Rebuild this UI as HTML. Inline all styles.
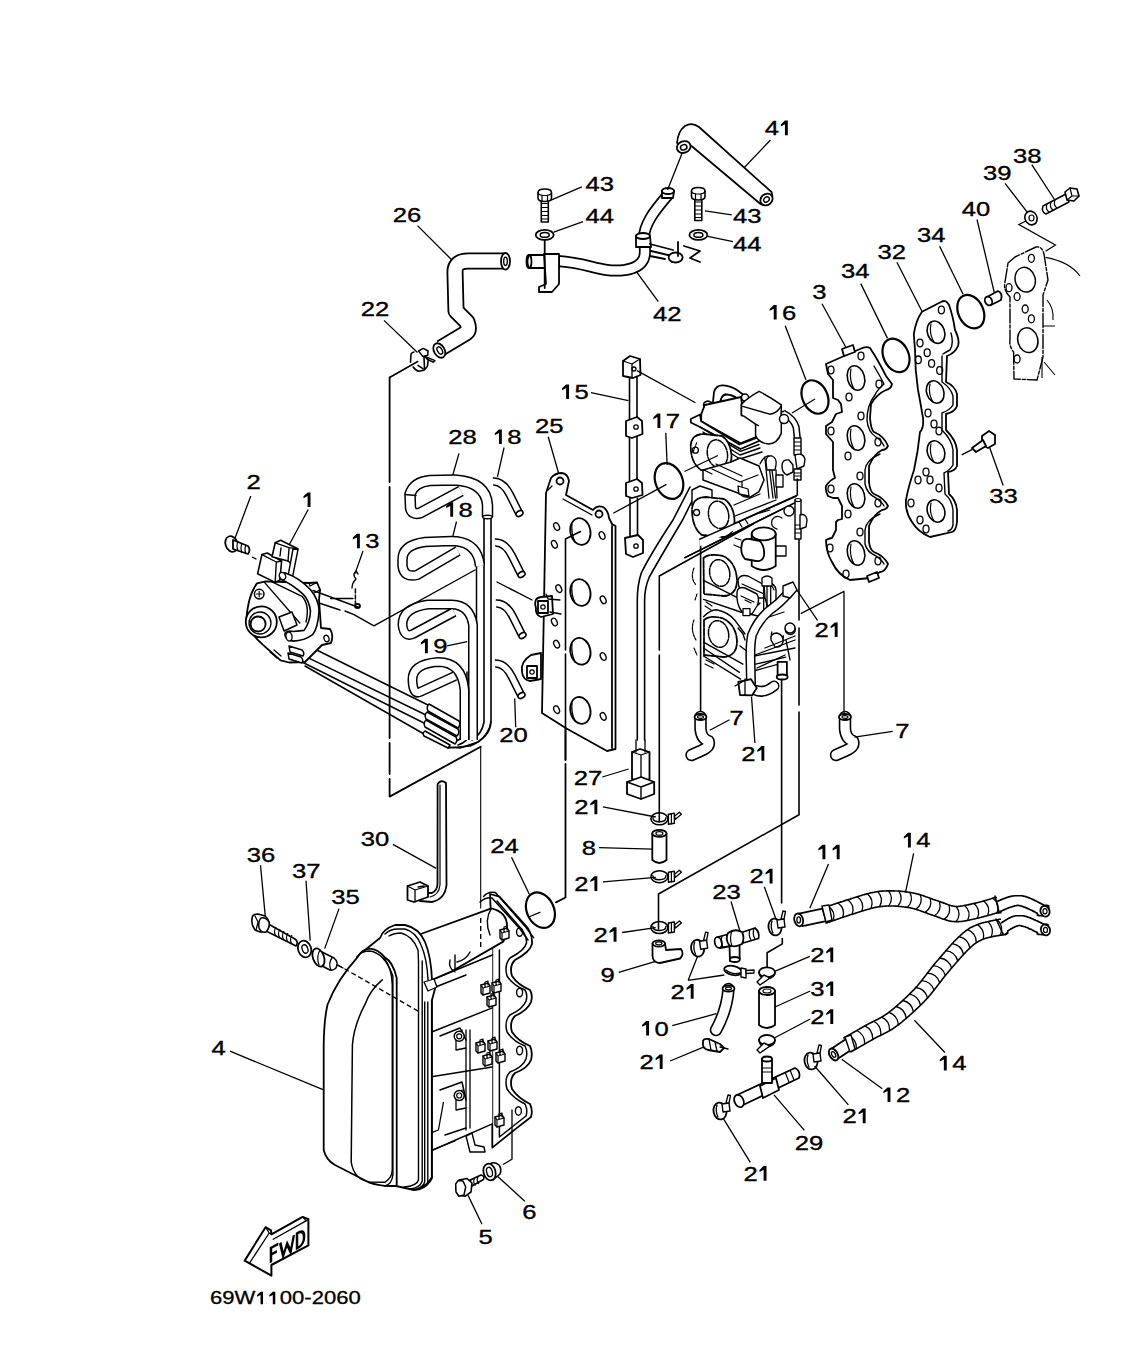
<!DOCTYPE html>
<html><head><meta charset="utf-8"><style>
html,body{margin:0;padding:0;background:#fff;width:1123px;height:1351px;overflow:hidden}
svg{display:block}
.l{fill:none;stroke:#000}.l:not([stroke-width]){stroke-width:1.3}
.p{fill:#fff;stroke:#000;stroke-linejoin:round;stroke-linecap:round}.p:not([stroke-width]){stroke-width:1.8}
.n{fill:none;stroke:#000;stroke-linejoin:round;stroke-linecap:round}.n:not([stroke-width]){stroke-width:1.8}
.t{fill:none;stroke:#000}.t:not([stroke-width]){stroke-width:1.2}
.d{fill:none;stroke:#000;stroke-dasharray:5 3}.d:not([stroke-width]){stroke-width:1.3}
.dd{fill:none;stroke:#000;stroke-width:1.8;stroke-dasharray:40 4 3 4}
#labels text{font-family:"Liberation Sans",sans-serif;font-size:20.5px;fill:#000;stroke:#000;stroke-width:0.35px}
</style></head><body>
<svg width="1123" height="1351" viewBox="0 0 1123 1351">
<!-- leaders -->
<g id="leaders">
<path class="l" d="M417.5,225.6L452.2,260.3 M384,320.4L417.5,352.5 M581.8,186.8L551,200.2 M583,221.6L553.7,232.2
M770.5,140L742.4,169.5 M731.7,214.9L705,210.9 M733,241.6L707.7,236.3 M658.3,301.7L636.9,272.3
M1031.8,164.7L1054.5,199.5 M1005,183.4L1027.8,212.8 M977,219.5L994.4,293 M939.6,246.2L963.1,294.3
M896.9,262.2L922.2,311.7 M860.8,283.6L887.5,338.4 M822,303.7L846.1,347.7 M785.2,325.8L806,380
M250.8,496L234.7,538.9 M308.2,509.5L289.5,544.2 M363,551L355,573.6 M459,453.4L452.5,476 M456.5,521.5L452.5,537.6
M447.1,645.8L467.2,641.7 M591,392.7L628.4,400.7 M548.2,436.8L558.9,474.2 M504.1,447.5L497.4,476.9 M665.8,432.8L667.1,464.8
M989.8,448L1003.2,485.5 M794.8,587L817.5,620.4 M514.7,698.5L515.7,727.3 M602.3,777L628.6,769 M602.9,806.8L655.8,817
M599,847.6L652.6,849.2 M603,881.9L655.8,877.4 M392.9,844.4L436.2,868.4 M511.5,857.2L529.2,894 M622.1,932.5L655.8,927.7
M260.5,865.3L265.3,916.6 M306,880.7L310.2,940.6 M339,908.6L324.7,948.6 M230,1051.2L323,1089.7
M828.5,864L809.8,908.2 M764.3,886.8L776.4,920.2 M731,901.5L740.3,932.2 M618.7,972.3L654.8,961.6
M688.2,980.3L697.6,956.3 M688.2,980.3L724.3,975 M809.8,956.3L772.4,972.3 M810.3,991L775,1007 M810.3,1019L772.4,1039
M672.2,1025.7L716.3,1013.7"/>

</g>
<!-- assembly -->
<g id="assembly">
<path class="n" stroke-width="1.5" d="M417.7,361.5 L389.6,377.5"/>
<path class="n" stroke-width="1.8" d="M389.6,377.5 V482 M389.6,487 V738 M389.6,743 V774 M389.6,779 V796.6 L480.7,746.7"/>
<path class="n" stroke-width="1.1" d="M480.7,746.7 V908"/>
<path class="n" stroke-width="1.8" d="M565.5,539 L580.4,531.5 M565.5,539 V650 M565.5,654 V760 M565.5,764 V897.5 L556,902.4"/>
<!-- O-ring 24 -->
<ellipse class="n" cx="540.4" cy="910.2" rx="13.5" ry="18.5" transform="rotate(-25 540.4 910.2)" stroke-width="2.2"/>
<path class="l" d="M528.7,917 L540.4,912.2"/>
<!-- hose 30 -->
<path class="p" d="M437.6,784 Q441,779 446,783 L446.5,885 Q445,899 432,902 L420,901 L421,893 L432,893 Q437.5,890 437.5,884 Z"/>
<path class="n" stroke-width="1.2" d="M440,785 L440,885 Q439,895 430,897"/>
<path class="p" d="M407.5,886 L420,882 L428,886 L428,897 L414,902 L407.5,900 Z"/>
<path class="n" stroke-width="1.3" d="M407.5,886 L415,890 L428,886 M415,890 L415,902 M418,887 L424,886"/>

</g>
<!-- top -->
<g id="top">
<!-- hose 26 -->
<path d="M441,348 L466,333 Q470,330 467,322 L456,311 L455,272 Q455,261 468,261 L505,261" fill="none" stroke="#000" stroke-width="17" stroke-linejoin="round"/>
<path d="M441,348 L466,333 Q470,330 467,322 L456,311 L455,272 Q455,261 468,261 L505,261" fill="none" stroke="#fff" stroke-width="13.4" stroke-linejoin="round"/>
<ellipse cx="505.5" cy="261.3" rx="4.5" ry="8.3" class="p"/>
<ellipse cx="505.5" cy="261.3" rx="1.8" ry="4.2" class="n" stroke-width="1.4"/>
<ellipse cx="439.3" cy="350.5" rx="5.3" ry="7.8" transform="rotate(-30 439.3 350.5)" class="p"/>
<ellipse cx="439.8" cy="350.5" rx="2.3" ry="4" transform="rotate(-30 439.8 350.5)" class="n" stroke-width="1.4"/>
<!-- clamp 22 -->
<path class="n" stroke-width="1.6" d="M410.5,362.2 L411,354.2 Q412,352 414,352 M413.2,367 Q416,371 419,371.3 L423.8,370.3 Q427.5,367 427.6,365.4 L428.1,360.6 M418,365.4 L422.8,368.7 M424,357 L424.5,369"/>
<path class="p" stroke-width="1.5" d="M418.5,351 L423.3,348.4 L428.1,351 L427.6,355.3 L422.8,356.4 Z"/>
<path class="p" stroke-width="1.5" d="M424.9,356.4 L435,360.6 L433,362.2 L427,359 Z"/>
<!-- bolts 43 / washers 44 -->
<g id="b43a">
<rect class="p" x="541.3" y="199" width="7" height="23" stroke-width="1.6"/>
<path class="t" d="M541.3,203.5 H548.3 M541.3,207.5 H548.3 M541.3,211.5 H548.3 M541.3,215.5 H548.3 M541.3,219 H548.3"/>
<path class="p" stroke-width="1.6" d="M538,192.5 Q538,189 544.8,189 Q551.5,189 551.5,192.5 L551.5,198 Q551.5,201.5 544.8,201.5 Q538,201.5 538,198 Z"/>
<path class="n" stroke-width="1.2" d="M538,192.5 Q538,195.5 544.8,195.5 Q551.5,195.5 551.5,192.5 M542,195 V201.3 M547.5,195 V201.3"/>
</g>
<use href="#b43a" transform="translate(153.5,-1.5)"/>
<ellipse class="n" cx="544.7" cy="234.9" rx="9" ry="5"/>
<ellipse class="n" cx="544.7" cy="234.9" rx="4.5" ry="2.4" stroke-width="1.5"/>
<ellipse class="n" cx="698.4" cy="234.9" rx="9" ry="5"/>
<ellipse class="n" cx="698.4" cy="234.9" rx="4.5" ry="2.4" stroke-width="1.5"/>
<!-- hose 42 -->
<path d="M558,261 C590,263 600,273 625,270 C650,266 645,250 644,240 C643,225 655,210 668,195" fill="none" stroke="#000" stroke-width="12" stroke-linejoin="round"/>
<path d="M558,261 C590,263 600,273 625,270 C650,266 645,250 644,240 C643,225 655,210 668,195" fill="none" stroke="#fff" stroke-width="8.6" stroke-linejoin="round"/>
<path class="p" d="M636,236 L650,236 L651,247 L636,247 Z"/>
<ellipse class="p" cx="643" cy="236" rx="7" ry="3"/>
<path class="p" d="M662,191 L674,191 L673,198 L662,198 Z"/>
<ellipse class="p" cx="668" cy="191" rx="6" ry="3"/>
<path class="p" d="M529,255 L559,255 L559,268 L529,268 Q526,261.5 529,255 Z"/>
<ellipse class="n" cx="529" cy="261.5" rx="2.5" ry="6.5"/>
<path class="p" d="M544,254 L559,254 L559,284 L552,292 L539,292 L539,287 L546,284 Z"/>
<path class="n" d="M544.7,240 L544.7,288"/>
<path class="n" d="M650,244 L673,250 M651,251 L672,256 L672,262 M650,256 L665,259"/>
<ellipse class="p" cx="675.6" cy="257.5" rx="7" ry="5"/>
<path class="n" d="M678,242 L678,256 M684,246 L700,251 L690,258 L700,262"/>
<!-- link -->
<path class="t" d="M667.5,190 L683,151" stroke-width="1.3"/>
<!-- hose 41 -->
<path class="p" stroke-width="1.7" d="M677,143 Q678,131 685,126 Q692,122 699,127 L771.5,192 Q774,198 769,203 Q764,206 760.5,204 L691.5,146 Z"/>
<ellipse class="p" cx="766.5" cy="199.5" rx="6.5" ry="5.5" transform="rotate(-40 766.5 199.5)"/>
<ellipse class="n" cx="766.5" cy="199.5" rx="3" ry="2.4" transform="rotate(-40 766.5 199.5)" stroke-width="1.4"/>
<ellipse class="p" cx="683.7" cy="147" rx="7" ry="5.8" transform="rotate(-20 683.7 147)"/>
<ellipse class="n" cx="683.7" cy="147.3" rx="3.3" ry="2.6" transform="rotate(-20 683.7 147.3)" stroke-width="1.5"/>

</g>
<!-- gaskets -->
<g id="gaskets">
<!-- head plate far right -->
<path class="n" stroke-width="1.4" d="M1008,263 L1015,257 L1036,247 Q1042,246 1044,254 L1048,280 L1043,295 L1043,357 L1037,380 L1014,379 L1013.6,352 Q1009,346 1010,340 L1010,297 Q1003,290 1005,282 L1008,263 Z" stroke-dasharray="14 2 3 2"/>
<ellipse class="n" cx="1025.2" cy="279.7" rx="10" ry="12.5" transform="rotate(-15 1025.2 279.7)" stroke-width="1.5"/>
<ellipse class="n" cx="1027.8" cy="340.2" rx="10" ry="12.5" transform="rotate(-15 1027.8 340.2)" stroke-width="1.5"/>
<g class="n" stroke-width="1.3">
<ellipse cx="1031.4" cy="258.3" rx="3" ry="4"/><ellipse cx="1009" cy="287.7" rx="3" ry="4"/><ellipse cx="1017.1" cy="296.6" rx="3" ry="4"/>
<ellipse cx="1025.2" cy="309" rx="3" ry="4"/><ellipse cx="1031.4" cy="318.8" rx="3" ry="4"/><ellipse cx="1017.1" cy="359" rx="3" ry="4"/>
</g>
<path class="t" d="M1045.6,257.4 Q1070,262 1080,276 M1047,300 Q1054,308 1053,320 M1043,326 L1055,326 M1044,362 L1055,375 M1042,357 L1042,378" stroke-width="1.1"/>
<path class="t" d="M1026,221 L1018.9,224.5 L1055.4,245 L1045.6,251.2" stroke-width="1.3"/>
<!-- bolt 38 washer 39 -->
<path class="p" stroke-width="1.5" d="M1043,206 L1066,194 L1069,202 L1046,214 Q1041,212 1043,206 Z"/>
<path class="t" d="M1047,204 Q1045,209 1049,212 M1051,202 Q1049,207 1053,210 M1055,200 Q1053,205 1057,208"/>
<path class="p" stroke-width="1.6" d="M1065,192 L1070,188 L1077,189 L1079,196 L1074,201 L1067,200 Z"/>
<path class="n" stroke-width="1.2" d="M1070,188 L1072,196 L1079,196 M1072,196 L1067,200"/>
<ellipse class="p" cx="1031" cy="218" rx="6" ry="7" transform="rotate(-25 1031 218)" stroke-width="1.6"/>
<ellipse class="n" cx="1031.5" cy="218" rx="2.5" ry="3" stroke-width="1.2"/>
<!-- pin 40 -->
<path class="p" d="M987,297 L998,291 Q1003,293 1001,300 L991,305 Z"/>
<ellipse class="p" cx="988.5" cy="301" rx="3.5" ry="4.5" transform="rotate(-25 988.5 301)"/>
<!-- O-rings 34 x2, 16 -->
<ellipse class="n" cx="970.8" cy="311.7" rx="12.5" ry="17.5" transform="rotate(-25 970.8 311.7)" stroke-width="2.2"/>
<ellipse class="n" cx="896" cy="355.4" rx="12.5" ry="17.5" transform="rotate(-25 896 355.4)" stroke-width="2.2"/>
<ellipse class="n" cx="815" cy="397" rx="12.5" ry="17.5" transform="rotate(-25 815 397)" stroke-width="2.2"/>
<path class="l" d="M792,413 L815,399"/>
<!-- gasket 32 -->
<path class="p" d="M922,311.7 L941,302 Q946,299 949,305 Q953,316 955,330 Q960,340 958,346 Q955,353 947,356 L946,382 Q955,386 957,394 L957,406 Q955,412 946,414 L946,430 Q956,440 957,450 L957,466 Q955,471 948,472 L949,494 Q956,500 957,510 L957,522 Q956,531 952,532 L930,537 Q918,532 912,522 Q905,512 906,500 Q908,488 914,470 Q918,452 920,432 Q924,428 923,418 Q920,400 918,390 Q915,370 915,350 L913.8,334 Q916,320 922,311.7 Z"/>
<path class="n" stroke-width="1.4" d="M951,333 Q954,344 950,350 Q946,352 943,354 M942,356 L942,382 Q951,388 953,396 L953,405 Q950,410 942,413 L942,430 Q952,440 953,450 L953,465 Q950,470 944,473 L945,494 Q952,500 953,510 L953,525 Q952,530 948,531"/>
<g class="n" stroke-width="1.6">
<ellipse cx="936" cy="332.2" rx="8.5" ry="11.5" transform="rotate(-20 936 332.2)"/>
<ellipse cx="935.2" cy="392" rx="8.5" ry="11.5" transform="rotate(-20 935.2 392)"/>
<ellipse cx="936" cy="452" rx="8.5" ry="11.5" transform="rotate(-20 936 452)"/>
<ellipse cx="936" cy="511" rx="8.5" ry="11.5" transform="rotate(-20 936 511)"/>
<path d="M931,324 Q929,334 934,342 M930,384 Q928,394 933,402 M931,444 Q929,454 934,462 M931,503 Q929,513 934,521" stroke-width="1.2"/>
</g>
<g class="n" stroke-width="1.3">
<ellipse cx="941.4" cy="310" rx="3" ry="3.8"/><ellipse cx="920" cy="343" rx="3" ry="3.8"/><ellipse cx="927.2" cy="352.7" rx="3" ry="3.8"/>
<ellipse cx="918.3" cy="359.8" rx="3" ry="3.8"/><ellipse cx="931.6" cy="363.4" rx="3" ry="3.8"/><ellipse cx="939.7" cy="370.5" rx="3" ry="3.8"/>
<ellipse cx="928" cy="413" rx="3" ry="3.8"/><ellipse cx="934" cy="424" rx="3" ry="3.8"/><ellipse cx="939" cy="431" rx="3" ry="3.8"/>
<ellipse cx="926" cy="472" rx="3" ry="3.8"/><ellipse cx="930" cy="480" rx="3" ry="3.8"/><ellipse cx="918" cy="480" rx="3" ry="3.8"/>
<ellipse cx="939" cy="488" rx="3" ry="3.8"/><ellipse cx="911" cy="503" rx="3" ry="3.8"/><ellipse cx="920" cy="520" rx="3" ry="3.8"/><ellipse cx="926" cy="529" rx="3" ry="3.8"/>
</g>
<!-- bolt 33 -->
<path class="p" d="M982,436 L989,431 L995,435 L995,444 L988,448 L982,445 Z"/>
<path class="p" d="M972,448 L983,440 L986,446 L976,452 Z"/>
<path class="t" d="M961.7,454.8 L972.4,449.4" stroke-width="1.3"/>
<!-- gasket 3 -->
<path class="p" d="M826,364 L860,349 Q866,346 870,348 Q878,360 886,376 L892,384 Q891,389 886,390 Q877,394 871,404 L870,418 Q871,430 874,432 Q884,436 888,446 Q886,450 882,450 Q874,454 869,466 L869,482 Q870,492 874,494 Q884,498 888,506 Q886,510 882,510 Q874,514 869,526 L869,542 Q870,550 874,552 Q884,556 888,564 Q885,572 880,572 L870,578 L850,580 Q838,575 832,562 Q826,552 826,540 Q830,538 832,538 L836,530 L836,522 L838,520 L842,519 L842,506 L838,498 L833,498 L828,496 Q825,490 826,486 Q830,480 835,478 L833,470 L833,442 L826,434 L826,426 L832,422 L836,414 L842,412 L841,404 L838,400 L833,398 L833,380 L828,374 Z"/>
<path class="n" stroke-width="1.4" d="M874,366 Q880,376 884,384 Q877,390 875,395 Q867,405 867,420 Q868,432 876,437 Q882,441 884,446 M880,454 Q866,460 865,470 L865,484 Q867,494 876,498 Q882,502 884,506 M880,514 Q866,520 865,530 L865,544 Q867,552 876,556 Q882,560 884,564"/>
<path class="p" d="M842,349 L853,345 L855,352 L844,356 Z"/>
<path class="p" d="M867,576 L877,572 L879,578 L869,582 Z"/>
<g class="n" stroke-width="1.6">
<ellipse cx="856" cy="378" rx="8.5" ry="12.5" transform="rotate(-15 856 378)"/>
<ellipse cx="856" cy="438" rx="8.5" ry="12.5" transform="rotate(-15 856 438)"/>
<ellipse cx="856" cy="496" rx="8.5" ry="12.5" transform="rotate(-15 856 496)"/>
<ellipse cx="856" cy="553" rx="8.5" ry="12.5" transform="rotate(-15 856 553)"/>
<path d="M851,369 Q849,380 854,389 M851,429 Q849,440 854,449 M851,487 Q849,498 854,507 M851,544 Q849,555 854,564" stroke-width="1.2"/>
</g>
<g class="n" stroke-width="1.3">
<ellipse cx="831" cy="370" rx="3" ry="3.8"/><ellipse cx="861" cy="356" rx="3" ry="3.8"/><ellipse cx="879" cy="384" rx="3" ry="3.8"/>
<ellipse cx="849" cy="397" rx="3" ry="3.8"/><ellipse cx="861" cy="416" rx="3" ry="3.8"/><ellipse cx="831" cy="431" rx="3" ry="3.8"/>
<ellipse cx="878" cy="442" rx="3" ry="3.8"/><ellipse cx="848" cy="456" rx="3" ry="3.8"/><ellipse cx="860" cy="476" rx="3" ry="3.8"/>
<ellipse cx="831" cy="489" rx="3" ry="3.8"/><ellipse cx="878" cy="503" rx="3" ry="3.8"/><ellipse cx="848" cy="514" rx="3" ry="3.8"/>
<ellipse cx="860" cy="532" rx="3" ry="3.8"/><ellipse cx="830" cy="548" rx="3" ry="3.8"/><ellipse cx="878" cy="561" rx="3" ry="3.8"/><ellipse cx="846" cy="574" rx="3" ry="3.8"/>
</g>

</g>
<!-- carb -->
<g id="carb">
<!-- pipe from carb (double line) -->
<path class="n" stroke-width="1.6" d="M690,487 L673,520 Q650,555 641.3,573 Q637.3,585 637.3,600 L637.3,740"/>
<path class="n" stroke-width="1.6" d="M698,489 L682.6,520 Q660,558 649.3,577 Q644.6,588 644.6,600 L644.6,740"/>
<!-- frame lines -->
<path class="n" stroke-width="1.6" d="M659.3,576 L753.2,524 M659.3,576 L659.3,650 M659.3,655 L659.3,822"/>
<path class="n" stroke-width="1.6" d="M700.6,539 L700.6,713"/>
<path class="n" stroke-width="1.6" d="M781.6,678 L781.6,902.9 M799,540 L799,620 M799,628 L799,705 M799,712 L799,814.7 L658.5,894 L658.5,929"/>
<path class="n" stroke-width="1.6" d="M782.3,938.5 L782.3,943.9 L767.1,952.7 L767.1,967"/>
<!-- ===== TOP UNIT ===== -->
<!-- body behind -->
<path class="p" stroke-width="0" d="M691,419 L701,405 L745,395 L760,391 L781,404 L800,440 L800,495 L742,527 L692,510 Z"/>
<!-- top hose loop -->
<path class="p" d="M712.8,404 L714,392 Q716,385 723.2,385.4 Q731,386 737,390 L745,396 L740,401 Q735,396 730,395 Q723,393 721,399 L720,402 Z"/>
<path class="n" stroke-width="1.2" stroke-dasharray="2 1.5" d="M721,401 Q722,394 726,394"/>
<circle class="p" cx="745" cy="397.5" r="3.5" stroke-width="1.4"/>
<!-- top cover -->
<path class="p" d="M701.2,414.4 L704.7,405 L714,403 L741,397 L742,404 L756,424.8 L756,437 L740.6,443.3 L701.2,421.3 Z"/>
<path class="n" stroke-width="1.4" d="M704,407 Q702,402 708,401 L713,403"/>
<!-- stacked plates -->
<path class="p" d="M690.8,419 L700,414.5 L701.2,421.3 L739.4,444.5 L759,437 L759,441 L740.6,449 L700,427 L690.8,422.5 Z"/>
<path class="n" stroke-width="1.4" d="M700,427 L740.6,451.4 L759,444.5 M703,432 L740,455 L760,448 M705,437 L740,459 L762,452"/>
<!-- air box -->
<path class="p" stroke-width="1.5" d="M741.4,404.2 Q750,396 759.2,391.4 Q770,397 781.3,404.9 L781.3,433.4 Q777,444 768.5,444.1 Q759,443 755.6,435.6 L755.6,424.2 L744.2,416.3 L741.4,415.6 Z"/>
<path class="n" stroke-width="1.4" d="M742.8,406.4 L769.9,414.2 Q778,413 781.3,405.6 M755.6,424.2 L758.5,425.6"/>
<path class="n" stroke-width="1.6" stroke-dasharray="1.5 1.5" d="M741.4,404.2 V416"/>
<path class="p" stroke-width="1.3" d="M781.3,412 L785,411 Q788,415 787,422.7 L781.3,422.7 Z"/>
<!-- right pipe + fittings top -->
<path d="M783.4,413.2 Q793,418 796.1,427 L797.5,440" fill="none" stroke="#000" stroke-width="7.2"/>
<path d="M783.4,413.2 Q793,418 796.1,427 L797.5,440" fill="none" stroke="#fff" stroke-width="4.2"/>
<circle class="p" cx="784" cy="419" r="4.5" stroke-width="1.4"/>
<path class="p" d="M794,438 L801,438 L801,455 L794,455 Z" stroke-width="1.4"/>
<path class="t" d="M794,442 H801 M794,446 H801 M794,450 H801"/>
<path class="p" d="M795,455 Q803,452 805,459 L804,466 L797,469 Z" stroke-width="1.4"/>
<path class="p" d="M794,469 L801,469 L801,480 L794,480 Z" stroke-width="1.4"/>
<path class="t" d="M794,473 H801 M794,476 H801"/>
<!-- intake flange 1 -->
<path class="p" d="M690.8,444.5 Q692,434 704,434 L722,436 Q731,442 731.5,457 Q731,470 721,471 L701,470 Q690,462 690.8,444.5 Z" stroke-dasharray="7 1.5"/>
<ellipse class="n" cx="717.4" cy="453.7" rx="10" ry="14" transform="rotate(-12 717.4 453.7)" stroke-width="1.5" stroke-dasharray="6 1.5"/>
<circle class="n" cx="695.4" cy="450.2" r="3" stroke-width="1.3"/>
<!-- body below 1 / float 1 -->
<path class="p" d="M703,470 L703,480 L740.6,494 L749.8,497.4 L759,491.6 L764,480 L759,466 L740,458 L731,462 Z" stroke-width="1.5"/>
<path class="n" stroke-width="1.3" d="M712,469 L740,482 L758,475 M716,464 L742,476 M742,482 L742,494 M738,490 Q741,498 748,497"/>
<path class="p" d="M738,486 L748,489 L749,496 L739,494 Z" stroke-width="1.3"/>
<!-- linkage rods -->
<path class="n" stroke-width="1.3" d="M764.8,457 L769,498 M768,457 L773,498 M771,462 L775.5,498 M776,470 L777,498 M760,464 Q766,452 772,458"/>
<path class="p" d="M766,462 Q766,455 772,456 Q777,458 776,465 L775,470 L767,470 Z" stroke-width="1.3"/>
<path class="p" d="M782,466 Q782,459 789,460 L793,465 L793,472 L787,475 Q782,473 782,466 Z" stroke-width="1.4"/>
<path class="p" d="M776,475 L783,475 L783,487 L776,487 Z" stroke-width="1.3"/>
<path class="n" stroke-width="1.5" d="M797.3,478.9 V495.1 L700,539.1 M798.5,500.9 L685,557.6"/>
<!-- ===== SECOND UNIT ===== -->
<path class="p" d="M692,490 L700,486 L712,490 L712,501 L692,505 Z" stroke-width="1.4"/>
<path class="p" d="M692,509 Q693,497 706,497 L724,499 Q734,505 734.5,521 Q734,536 723,537 L702,535 Q692,528 692,509 Z" stroke-dasharray="7 1.5"/>
<ellipse class="n" cx="718.6" cy="514.8" rx="10" ry="13.8" transform="rotate(-12 718.6 514.8)" stroke-width="1.5" stroke-dasharray="6 1.5"/>
<circle class="n" cx="696.6" cy="512.5" r="3" stroke-width="1.3"/>
<path class="n" stroke-width="1.3" d="M734,505 L760,494 M735,516 L776,500 M734,527 L787,504"/>
<!-- frame band -->
<path class="p" d="M700,539.1 L796.1,496.3 L798.5,500.9 L700,546 Z" stroke-width="0"/>
<path class="n" stroke-width="1.5" d="M700,539.1 L796.1,496.3 M685,557.6 L798.5,500.9"/>
<path class="n" stroke-width="1.2" d="M739,522 L742,527 M745,519 L748,524 M760,513 L770,510"/>
<!-- right fittings 2 -->
<path class="p" d="M795,500 L801,500 L801,539 L795,539 Z" stroke-width="1.4"/>
<ellipse class="p" cx="798" cy="500" rx="3" ry="1.5" stroke-width="1.2"/>
<path class="t" d="M795,525 H801 M795,529 H801 M795,533 H801"/>
<path class="p" d="M800,515 Q806,513 807,520 L806,527 L800,529 Z" stroke-width="1.4"/>
<circle class="p" cx="789" cy="511" r="5" stroke-width="1.4"/>
<path class="n" stroke-width="1.3" d="M772,520 Q776,514 782,518 M772,520 Q770,527 777,529"/>
<!-- float bowl -->
<path class="p" d="M751.7,534 L751.7,566 Q763.7,574 775.7,566 L775.7,534 Z"/>
<ellipse class="p" cx="763.7" cy="533.9" rx="12" ry="6.5"/>
<path class="p" d="M741.7,545 Q742,538 750,539 L760,541 Q765,547 764,556 Q762,562 756,561 L745,559 Q740,553 741.7,545 Z"/>
<path class="n" stroke-width="1.3" d="M735,538 L741,540 M734,545 L741,548"/>
<path class="p" d="M776,546 L786,546 L786,556 L776,556 Z" stroke-width="1.3"/>
<!-- ===== THIRD/FOURTH flanges ===== -->
<path class="p" d="M703.5,558 Q709,553 723,556 Q736,562 737,580 Q737,595 724,596 L704,594 Z" stroke-dasharray="7 1.5"/>
<ellipse class="n" cx="719.7" cy="573" rx="10" ry="13.5" transform="rotate(-12 719.7 573)" stroke-width="1.5" stroke-dasharray="6 1.5"/>
<path class="n" stroke-width="1.4" d="M703.5,580.3 L738.3,598.2 M703.5,599.4 L740.6,612 L758,616 M703.5,616.7 Q710,610 716.3,609.8 Q728,612 734.8,620.2 L745,634"/>
<path class="p" d="M738,580 Q740,574 748,576 L770,588 Q774,594 770,598 L748,598 Q738,592 738,580 Z" stroke-width="1.4"/>
<path class="n" stroke-width="1.3" d="M742,584 L764,594 M745,596 L750,605 Q756,608 760,603"/>
<path class="p" d="M764,585 L771,583 Q777,586 776,594 L776,606 L768,608 L765,598 Z" stroke-width="1.4"/>
<path class="n" stroke-width="1.2" d="M768,586 Q772,584 774,590"/>
<path class="p" d="M704,620 Q709,615 722,618 Q736,624 737,641 Q737,656 724,657 L704,655 Z" stroke-dasharray="7 1.5"/>
<ellipse class="n" cx="718.6" cy="634" rx="10" ry="13.5" transform="rotate(-12 718.6 634)" stroke-width="1.5" stroke-dasharray="6 1.5"/>
<path class="n" stroke-width="1.4" d="M703.5,642.2 L742.9,664.2 M703.5,648 L739.4,672.3 M703.5,656 L740.6,679.2 M738,628 L743,634 L745,640 M740,646 L748,652"/>
<path class="n" stroke-width="1.2" stroke-dasharray="2.5 1.2" d="M694,568 Q690,578 696,585 M695,600 L697,594 M694,620 Q690,630 696,640 M694,648 L697,655 M693,452 L697,442"/>
<!-- extra lower carb details -->
<path class="p" stroke-width="1.4" d="M737,592 Q738,586 745,588 L757,594 Q760,600 757,606 L752,614 L742,612 Q736,604 737,592 Z"/>
<path class="n" stroke-width="1.3" d="M741,596 L754,602 M745,600 L751,603"/>
<path class="p" stroke-width="1.3" d="M743,608.6 L750,608.6 L750,615.6 L743,615.6 Z"/>
<path class="n" stroke-width="1.3" d="M763.7,581 V615.6 M767,583 V613 M770.7,581 V615.6"/>
<path class="p" stroke-width="1.3" d="M762,578 Q767,574 772,578 L772,586 L762,586 Z"/>
<path class="n" stroke-width="1.3" d="M754.5,656 L795,648 M755.6,664.2 L785.7,657.2 M753.3,671 L786.9,661.9 M771.8,632 Q770,640 776,643.4 Q783,644 783.4,636"/>
<circle class="p" cx="790.3" cy="629.5" r="5" stroke-width="1.4"/>
<path class="n" stroke-width="1.2" d="M706,602 L712,606 M705,606 L711,610 M706,660 L714,664 M705,664 L713,668 M704,470 L712,474"/>
<!-- right small parts lower -->
<circle class="p" cx="790" cy="628" r="5" stroke-width="1.4"/>
<path class="p" d="M771,640 Q770,633 777,633 Q784,635 783,642 Q781,648 775,647 Z" stroke-width="1.4"/>
<path class="n" stroke-width="1.3" d="M760,620 L772,616 L784,612 M765,648 L795,636 M755,655 L795,640 M757,668 L785,655 M786,640 L790,660"/>
<!-- fuel hose on carb -->
<path d="M788.5,593 Q780,603 770,610 Q758,620 752,635 Q750,645 750.5,660 L751,684" fill="none" stroke="#000" stroke-width="10" stroke-linecap="butt"/>
<path d="M788.5,593 Q780,603 770,610 Q758,620 752,635 Q750,645 750.5,660 L751,684" fill="none" stroke="#fff" stroke-width="7"/>
<path class="p" d="M783,586 L793,582 L797,590 L790,598 L783,596 Z" stroke-width="1.4"/>
<!-- fitting and elbow -->
<path class="p" d="M777.6,661.9 L786.9,661.9 L786.9,676 L777.6,676 Z"/>
<ellipse class="p" cx="782.2" cy="677" rx="5.5" ry="2.5"/>
<path d="M755,690 Q764,694 774,686" fill="none" stroke="#000" stroke-width="11" stroke-linecap="round"/>
<path d="M755,690 Q764,694 774,686" fill="none" stroke="#fff" stroke-width="8" stroke-linecap="round"/>
<path class="p" d="M738.3,682 L751,679.2 L756.8,688 L752,695.4 L740,695 Z"/>
<path class="n" stroke-width="1.3" d="M745,679 L745,695 M735,686 L742,682"/>

</g>
<!-- plate -->
<g id="plate">
<!-- plate 25 -->
<path class="p" d="M546,493 L551,478 Q555,473 562,473 Q568,474 569,481 L566,495 L593,510 Q597,505 603,507 Q608,510 609,518 L612,524 L615.5,526 L615.5,749 L607,751 L566.5,728.5 L542,713 Z"/>
<path class="n" d="M612,526 L612,748"/>
<circle class="n" cx="560" cy="481" r="3.5"/>
<circle class="n" cx="599" cy="514" r="3.5"/>
<g class="n">
<ellipse cx="580.4" cy="531.5" rx="10" ry="13.5" transform="rotate(-12 580.4 531.5)"/>
<ellipse cx="580.4" cy="592.5" rx="10" ry="13.5" transform="rotate(-12 580.4 592.5)"/>
<ellipse cx="580.4" cy="651.3" rx="10" ry="13.5" transform="rotate(-12 580.4 651.3)"/>
<ellipse cx="580.4" cy="710.4" rx="10" ry="13.5" transform="rotate(-12 580.4 710.4)"/>
<path d="M572,524 Q571,533 575,542 M572,585 Q571,594 575,603 M572,644 Q571,653 575,662 M572,703 Q571,712 575,721" stroke-width="1.2"/>
</g>
<g class="n" stroke-width="1.4">
<ellipse cx="556.6" cy="526.6" rx="2.6" ry="4" transform="rotate(-25 556.6 526.6)"/><ellipse cx="554.4" cy="544.3" rx="2.6" ry="4" transform="rotate(-25 554.4 544.3)"/>
<ellipse cx="602.1" cy="535.5" rx="2.6" ry="4" transform="rotate(-25 602.1 535.5)"/><ellipse cx="558.8" cy="588.7" rx="2.6" ry="4" transform="rotate(-25 558.8 588.7)"/>
<ellipse cx="603.2" cy="599.8" rx="2.6" ry="4" transform="rotate(-25 603.2 599.8)"/><ellipse cx="554.4" cy="622" rx="2.6" ry="4" transform="rotate(-25 554.4 622)"/>
<ellipse cx="556.6" cy="644.2" rx="2.6" ry="4" transform="rotate(-25 556.6 644.2)"/><ellipse cx="603.2" cy="656.5" rx="2.6" ry="4" transform="rotate(-25 603.2 656.5)"/>
<ellipse cx="556.6" cy="709.7" rx="2.6" ry="4" transform="rotate(-25 556.6 709.7)"/><ellipse cx="603.2" cy="716.4" rx="2.6" ry="4" transform="rotate(-25 603.2 716.4)"/>
</g>
<!-- clips on plate -->
<path class="p" d="M536,608 Q533,598 541,597 L552,596 L553,614 L541,617 Q535,615 536,608 Z"/>
<rect class="p" x="538" y="601" width="10" height="12"/>
<circle class="n" cx="543" cy="607" r="2.2" stroke-width="1.2"/>
<path class="n" d="M546,594 L548,599 L560,600 M550,612 L561,614" stroke-width="1.3"/>
<path class="p" d="M522,672 Q520,662 531,655 L541,653 L541,679 L530,681 Q523,680 522,672 Z"/>
<rect class="p" x="527" y="666" width="10" height="12"/>
<circle class="n" cx="532" cy="672" r="2.2" stroke-width="1.2"/>
<!-- O-ring 17 -->
<ellipse class="n" cx="669" cy="481" rx="13.5" ry="18.5" transform="rotate(-22 669 481)" stroke-width="2.2"/>
<path class="l" d="M613.2,513.3 L666.5,484.4 M684.5,471.5 L717.9,455.5"/>
<!-- harness 15 -->
<path class="n" d="M629.5,377 V482 M637,377 V482 M630,498 V536 M637.5,498 V536" stroke-width="1.6"/>
<path class="p" d="M623,361 L630,356 L640,359 L640.5,375 L633,378 L623,376 Z"/>
<path class="n" d="M623,361 L632,364 L640,359 M632,364 L632,378" stroke-width="1.3"/>
<circle class="n" cx="634" cy="369" r="2" stroke-width="1.3"/>
<path class="p" d="M626,421 L637,417 L642,421 L642.5,434 L632,438 L626,436 Z"/>
<circle class="n" cx="636" cy="427" r="2.2" stroke-width="1.3"/>
<path class="p" d="M626,483 L637,479 L642,483 L642.5,495 L632,498 L626,496 Z"/>
<circle class="n" cx="636" cy="489" r="2.2" stroke-width="1.3"/>
<path class="p" d="M625,538 L638,535 L643,540 L643,553 L633,557 L626,554 Z"/>
<circle class="n" cx="636" cy="546" r="2.2" stroke-width="1.3"/>
<path class="l" d="M637,370.6 L695.5,402.7"/>
<path class="n" stroke-width="1.6" d="M580.4,531.5 L565.5,539 V650 M565.5,654 V760"/>
<path class="n" stroke-width="1.3" d="M563,499 L592,515 M548,490 L552,486"/>

</g>
<!-- loops -->
<g id="loops">
<!-- right short hose ends (behind bundle) -->
<g id="hend">
<path d="M493,481.5 Q503,481 510,495 L519,513" fill="none" stroke="#000" stroke-width="8.5"/>
<path d="M493,481.5 Q503,481 510,495 L519,513" fill="none" stroke="#fff" stroke-width="5.5"/>
<ellipse class="p" cx="519.5" cy="513.5" rx="3.8" ry="2.6" transform="rotate(-30 519.5 513.5)" stroke-width="1.5"/>
</g>
<use href="#hend" transform="translate(2,61)"/>
<use href="#hend" transform="translate(3,122)"/>
<use href="#hend" transform="translate(2,182)"/>
<!-- wire bundle lines from sensor -->
<path class="n" stroke-width="1.5" d="M306.5,645 L430,706 M301.7,654.6 L428,716 M300,661 L426,724 M305,666 L424,734"/>
<!-- vertical bundle -->
<path class="p" d="M462,672 L462,735 Q462,746 450,747 L440,746 L470,744 Q491,738 491,721 L491,518 L484,518 L484,720 Z" stroke-width="0"/>
<path class="n" stroke-width="1.6" d="M484,518 L484,722 Q482,734 472,740 M491,518 L491,721 Q490,733 478,742 L460,748 L448,747"/>
<path class="n" stroke-width="1.5" d="M476.5,563 L476.5,727 Q474,736 466,740 M470,617 L470,733 Q468,742 458,745 M467,672 L467,730 Q464,740 452,742"/>
<!-- loop 28 (top hook) -->
<path id="lp28" d="M487.5,517 L487.5,505 Q486,482 455,480 L430,480.5 Q414,482 410,494 L410.5,508 Q412,515 420,513 L461,491" fill="none" stroke="#000" stroke-width="11.5" stroke-linejoin="round"/>
<path d="M487.5,517 L487.5,505 Q486,482 455,480 L430,480.5 Q414,482 410,494 L410.5,508 Q412,515 420,513 L461,491" fill="none" stroke="#fff" stroke-width="8.5" stroke-linejoin="round"/>
<path class="n" stroke-width="1.5" d="M405,494.5 L416,495.5"/>
<ellipse class="p" cx="487.5" cy="517" rx="4.8" ry="1.8" stroke-width="1.4"/>
<!-- loop 18b -->
<path d="M480,566 L479,560 Q474,541 451,541 L425,542 Q402,545 402.5,560 L402.5,566 Q404,578 417,575 L458,551" fill="none" stroke="#000" stroke-width="10.5" stroke-linejoin="round"/>
<path d="M480,566 L479,560 Q474,541 451,541 L425,542 Q402,545 402.5,560 L402.5,566 Q404,578 417,575 L458,551" fill="none" stroke="#fff" stroke-width="7.5" stroke-linejoin="round"/>
<!-- loop 19 -->
<path d="M473,740 L473,625 Q470,605 452,604.5 L428,604.5 Q402,608 402.5,625 Q404,638 413,634 L454,612" fill="none" stroke="#000" stroke-width="10" stroke-linejoin="round"/>
<path d="M473,740 L473,625 Q470,605 452,604.5 L428,604.5 Q402,608 402.5,625 Q404,638 413,634 L454,612" fill="none" stroke="#fff" stroke-width="7" stroke-linejoin="round"/>
<!-- loop 4th -->
<path d="M464.5,740 L464.5,690 Q462,662 438,662 Q412,664 412.5,680 Q413,695 420,692 L455,676" fill="none" stroke="#000" stroke-width="10" stroke-linejoin="round"/>
<path d="M464.5,740 L464.5,690 Q462,662 438,662 Q412,664 412.5,680 Q413,695 420,692 L455,676" fill="none" stroke="#fff" stroke-width="7" stroke-linejoin="round"/>
<!-- terminal bars -->
<g class="p" stroke-width="1.5">
<path d="M429,704 L459,721 Q461,725 458,728 L428,711 Q426,707 429,704 Z"/>
<path d="M427,712 L458,729 Q460,733 457,736 L426,719 Q424,715 427,712 Z"/>
<path d="M426,720 L456,737 Q458,741 455,744 L425,727 Q423,723 426,720 Z"/>
<path d="M425,731 L450,745 L448,748 L424,736 Q422,733 425,731 Z"/>
</g>
<path class="n" stroke-width="1.6" d="M491,722 Q490,738 470,746 L448,748"/>

</g>
<!-- sensor -->
<g id="sensor">
<!-- sensor 1 -->
<path class="p" d="M257,583.4 L265.6,581.3 L309,583 L317,582.5 L320.1,589.8 L319,599.5 L321,628 L330,629 Q334,635 331,643 L322,645 L305,662 L289.1,662.5 L280.6,660.4 L262.4,644.3 Q250,634 246.4,619.8 Q248,595 257,583.4 Z"/>
<path class="n" stroke-width="1.3" d="M317,582.5 L310,586 L309,583 M320.1,589.8 L314,593"/>
<ellipse class="n" cx="326.5" cy="638.5" rx="2.5" ry="3.3" transform="rotate(-20 326.5 638.5)" stroke-width="1.3"/>
<path class="n" stroke-width="1.4" d="M264.5,582.4 L299.8,623 M271,581.3 L302,596.3 Q310,605 306,622"/>
<circle class="p" cx="261.3" cy="621.9" r="15.5"/>
<circle class="n" cx="260" cy="623" r="11" stroke-width="1.3"/>
<circle class="p" cx="258.1" cy="624" r="7.5"/>
<path class="p" stroke-width="1.5" d="M279,617 L292,612 L297,625 L284,631 Z"/>
<circle class="p" cx="259.2" cy="594.1" r="4.8" stroke-width="1.5"/>
<path class="n" stroke-width="1.1" d="M256.5,594 H262 M259.2,591.3 V597"/>
<!-- connector -->
<path class="p" stroke-width="1.6" d="M257.6,573.8 L261.9,554.6 L267.2,553 L281.6,561 L280,580 L275.2,582.4 Z"/>
<path class="n" stroke-width="1.4" d="M261.9,554.6 L276.3,562 L281.6,561 M276.3,562 L275.2,582.4"/>
<path class="p" stroke-width="1.6" d="M272,556.7 L275.2,542.8 L280.6,540.2 L297.7,548.7 L293,565 L288,561 Z"/>
<path class="n" stroke-width="1.4" d="M275.2,542.8 L289.1,547.6 L297.7,548.7 M289.1,547.6 L288,561 M281,548 L280,556"/>
<path class="p" stroke-width="1.4" d="M293,549 L298,549.5 L292.5,577 L288,576 Z"/>
<!-- sensor hose loop -->
<path class="p" stroke-width="1.6" d="M284.8,572.7 Q300,578 310.5,589.8 Q319,600 319,611.2 Q318,628 312.6,634.7 Q304,641 293.4,641.1 Q286,640 284.8,634.7 Q285,630 293.4,631.5 Q300,631 304.1,630.4 Q310,622 310.5,611.2 Q309,600 303,594.1 Q292,584 280.6,579.2 Q279,574 284.8,572.7 Z"/>
<ellipse class="p" cx="282.5" cy="576" rx="3" ry="3.8" transform="rotate(-30 282.5 576)" stroke-width="1.4"/>
<ellipse class="p" cx="289" cy="636.5" rx="3" ry="4.5" transform="rotate(-10 289 636.5)" stroke-width="1.4"/>
<!-- terminals -->
<path class="p" stroke-width="1.5" d="M289,646 L302,650 Q305,653 303,656 L290,652 Z"/>
<path class="p" stroke-width="1.5" d="M288,653 L301,657 Q304,660 302,663 L289,659 Z"/>
<path class="n" stroke-width="1.3" d="M270,652 L277,658 M274,650 L281,656"/>
<!-- screw 2 -->
<ellipse class="p" cx="231.5" cy="544" rx="6" ry="8" transform="rotate(-20 231.5 544)"/>
<path class="p" d="M233,540 L248,546 Q251,550 248,554 L233,549 Z"/>
<path class="t" d="M238,541 Q236,546 238,551 M242,543 Q240,548 242,553 M246,545 Q244,549 246,554"/>
<path class="d" d="M252,557 L259,560.5"/>
<!-- clip 13 -->
<path class="n" stroke-width="1.4" d="M356,571 Q352,575 356,579 Q352,583 352,588 M356,571 L358,574"/>
<path class="n" stroke-width="1.5" d="M355.4,589 L355.4,604" stroke-dasharray="4 2"/>
<ellipse class="p" cx="357.5" cy="606" rx="2.5" ry="2"/>
<!-- lines sensor to plate -->
<path class="n" stroke-width="1.4" d="M313,590.5 L359,607.5 M330.6,598.5 L353,598.5 M319,603 L340,610 M345,611 L354,614.6 L373.9,625.8 L475,570"/>
<path class="n" stroke-width="1.4" d="M497,582 L532,600"/>

</g>
<!-- cover -->
<g id="cover">
<!-- intake plate (back) -->
<path class="p" d="M490,894 L499.4,896.6 L523,922.6 Q533,932 532,944 Q530,952 515,960 Q509,966 512,976 Q518,985 530,990 Q533,995 531,1002 Q528,1010 515,1016 Q509,1022 512,1032 Q518,1041 530,1046 Q533,1052 531,1060 Q528,1068 515,1073 Q509,1079 512,1089 Q518,1098 530,1104 Q533,1110 531,1117 L516,1128.6 L492.3,1147.6 L492.3,948.7 Z"/>
<path class="n" stroke-width="1.5" d="M497,901 L518,925 Q527,934 526.5,943 Q525,950 510,958 Q504,965 507,976 Q513,985 525,990 Q528,995 526,1001 Q523,1009 510,1015 Q504,1021 507,1032 Q513,1041 525,1046 Q528,1052 526,1059 Q523,1067 510,1072 Q504,1078 507,1089 Q513,1098 525,1104 Q528,1110 526,1116 L512,1127 L499.4,1137 L499.4,950"/>
<g class="n" stroke-width="1.4">
<ellipse cx="519.6" cy="932" rx="3" ry="4.2"/><ellipse cx="519.6" cy="992.5" rx="3" ry="4.2"/>
<ellipse cx="519.6" cy="1050.5" rx="3" ry="4.2"/><ellipse cx="518.4" cy="1110.9" rx="3" ry="4.2"/>
</g>
<!-- box body -->
<path class="p" d="M433,979.5 L492.3,948.7 L492.3,1123.9 L433,1150 Z" stroke-width="0"/>
<path class="n" stroke-width="1.5" d="M433,979.5 L492.3,955 M433,1031.5 L492.3,1007.9 M433,1076.5 L492.3,1067 M433,1150 L492.3,1123.9 M433,988 L466,975 M440,1036 L460,1028 L466,1040 M440,1090 L462,1082 L466,1100 M445,1135 L466,1128"/>
<path class="n" stroke-width="1.3" d="M466,1030 L466,1130 M470,1030 L470,1128"/>
<!-- cylinder top -->
<path class="p" d="M418,935 L491.4,908.3 Q507,912 507,926 Q506,938 503.2,941.6 L452.3,971 L420,985 Z"/>
<path class="n" stroke-width="1.4" d="M491.4,908.3 Q484,920 490,935 M455,955 L455,970 M450,960 Q448,968 455,972 M457,962 Q466,960 470,952"/>
<path class="n" stroke-width="1.5" d="M483.6,896.5 Q488,891 495.4,892.6 L524.7,925.9 L533.6,937.6 M480,902 Q486,897 492,898 L520,929 L528,940"/>
<path class="d" d="M480.7,918 V950" stroke-width="1.4"/>
<!-- terminals on plate -->
<defs><g id="term">
<path class="p" stroke-width="1.4" d="M0,0 L7,-2 L9,1 L9,8 L2,10 L0,8 Z"/>
<path class="n" stroke-width="1.2" d="M0,0 L2,3 L9,1 M2,3 L2,10 M4,2 L4,-3 L7,-4 L7,0"/>
</g></defs>
<use href="#term" transform="translate(500,930)"/>
<use href="#term" transform="translate(481,985)"/>
<use href="#term" transform="translate(492,983)"/>
<use href="#term" transform="translate(487,997)"/>
<use href="#term" transform="translate(476,1043)"/>
<use href="#term" transform="translate(488,1041)"/>
<use href="#term" transform="translate(483,1056)"/>
<use href="#term" transform="translate(496,1053)"/>
<use href="#term" transform="translate(495,1117)"/>
<path class="n" stroke-width="1.3" d="M462,1030 L462,1040 M456,1033 L456,1050 L466,1048 M462,1090 L462,1100 M456,1093 L456,1110 L466,1108"/>
<circle class="p" cx="459.2" cy="1036.3" r="5" stroke-width="1.5"/>
<circle class="n" cx="459.2" cy="1036.3" r="2.5" stroke-width="1.2"/>
<circle class="p" cx="459.2" cy="1095.5" r="5" stroke-width="1.5"/>
<circle class="n" cx="459.2" cy="1095.5" r="2.5" stroke-width="1.2"/>
<path class="p" d="M466,1136 L472,1133 L475,1145 L484,1147 L485,1152 L470,1152 Z" stroke-width="1.4"/>
<!-- flange -->
<path class="p" d="M357,957 L370,946 L380,938 Q383,929 395,925 L405,925 Q419,928 425,942 Q431,956 432,980 L436,985 L432,1000 L432,1178 Q428,1186 420,1189 L414,1190 L396,1186 L396,1100 L357,1050 Z"/>
<path class="n" stroke-width="1.4" d="M385,934 Q390,929 398,929 L405,929 Q416,932 421,945 Q427,958 428,980 M389,936 Q394,933 401,933 Q413,936 418,950 L418.5,961 M418.5,961 L418.5,1180 M422.2,961 L422.2,1181 M424.7,1002 L424.7,1182 M427.8,1002 L427.8,1183 M431.6,1000 V1177 Q428,1186 414,1190 M418.5,1180 Q417,1186 404,1187 M422.2,1181 Q420,1188 410,1189 M424.7,1182 Q423,1188 414,1190"/>
<path class="p" d="M424,982 L434,979 L437,987 L428,991 Z" stroke-width="1.3"/>
<path class="n" stroke-width="1.3" d="M432.2,1150 L455,1141 M432.2,1132.4 L438.4,1130 L443.4,1102.5"/>
<!-- dome front -->
<path class="p" d="M323.7,1045 L323.7,1150 Q326,1160 335,1165 L368.6,1182.3 Q380,1186 389.8,1186 L396.7,1186 L396.7,978 Q393,962 384.8,957.4 Q378,949 369.9,948.6 Q362,949 357.4,957.4 Q337,980 327.5,1004.7 Q324,1020 323.7,1045 Z"/>
<path class="n" stroke-width="1.5" d="M382.3,979.8 Q370,990 364.9,1004.7 Q354,1025 352.4,1045 L351.2,1162 Q354,1180 370,1182 L384.8,1182.3 Q392,1178 392.3,1170 L392.3,985 Q392,968 384,958"/>
<path class="n" stroke-width="1.4" d="M358.6,954.9 Q363,951 369,951 Q384,952 392.9,976 M392.9,976 V1174.8 Q392,1184 385,1186"/>
<path class="d" d="M337.5,964.7 L420.8,1012.7"/>
<!-- bolt 36 washer 37 grommet 35 -->
<path class="p" stroke-width="1.6" d="M263,921 L295,939 Q299,942 296,946 L262,929 Z"/>
<path class="t" d="M276,927 Q273,932 276,936 M280,929 Q277,934 280,938 M284,931 Q281,936 284,940 M288,933 Q285,938 288,942 M292,935 Q289,940 292,944"/>
<path class="p" stroke-width="1.6" d="M252,919 Q252,914 258,914 L265,916 Q270,920 269,926 Q267,932 260,932 L255,930 Q251,925 252,919 Z"/>
<path class="p" stroke-width="1.5" d="M261,918 Q266,917 269,922 Q270,928 266,932 Q261,933 259,928 Q258,921 261,918 Z"/>
<path class="n" stroke-width="1.2" d="M255,916 L258,922 L256,930"/>
<ellipse class="p" cx="304.6" cy="949" rx="6.5" ry="8.5" transform="rotate(-20 304.6 949)"/>
<ellipse class="n" cx="305" cy="949" rx="2.8" ry="4.3" transform="rotate(-20 305 949)" stroke-width="1.3"/>
<path class="p" stroke-width="1.6" d="M320,951 L334,958 Q339,962 336,968 Q333,971 330,970 L318,964 Z"/>
<path class="n" stroke-width="1.3" d="M332,958 Q328,963 331,970 M337,965 L343,968"/>
<ellipse class="p" cx="318.5" cy="957.5" rx="5.5" ry="9.5" transform="rotate(-20 318.5 957.5)"/>
<path class="n" stroke-width="1.2" d="M320,950 Q316,957 319,965"/>
<!-- bolt 5 washer 6 -->
<path class="p" stroke-width="1.6" d="M466,1182 L481,1175 Q485,1176 483.5,1179.5 L470,1187 Z"/>
<path class="t" d="M471,1180 Q469,1184 472,1187 M474.5,1178.5 Q472.5,1182.5 475.5,1185.5 M478,1177 Q476,1181 479,1184"/>
<path class="p" stroke-width="1.6" d="M459,1180 L467,1178.5 L472,1183 L471,1192 L465,1196.3 L458,1195 L455.7,1188 Z"/>
<path class="p" stroke-width="1.5" d="M455.7,1184 L458,1180.6 L463,1181 L465.7,1187 L464,1195 L459,1196.3 L456,1192 Z"/>
<path class="p" stroke-width="1.6" d="M490,1164 Q494,1161 499,1165 Q502,1169 500,1174 L493,1180 Z"/>
<ellipse class="p" cx="489.5" cy="1172" rx="6" ry="8.5" transform="rotate(-15 489.5 1172)"/>
<ellipse class="n" cx="489.5" cy="1172" rx="2.8" ry="4.8" transform="rotate(-15 489.5 1172)" stroke-width="1.3"/>
<path class="n" stroke-width="1.3" d="M503.4,1164.2 L512,1159.3 L512,1110"/>
<path class="l" d="M497.7,1176.4 L524.8,1201.3 M467.8,1194.9 L482,1224.2"/>

</g>
<!-- fuel -->
<g id="fuel">
<!-- connector 27 -->
<path class="p" d="M632,752 L640,749 L649.5,752 L649.5,779 L641,782 L632,779 Z"/>
<path class="n" stroke-width="1.3" d="M632,752 L641,755 L649.5,752 M641,755 V782 M636,740 L636,752 M645,740 L645,752"/>
<path class="p" d="M627,782 L641,777 L654.2,782 L654.2,794 L641,799 L627,794 Z"/>
<path class="n" stroke-width="1.4" d="M627,782 L641,787 L654.2,782 M641,787 V799"/>
<!-- clamp generic: ring + tab -->
<defs><g id="clampH">
<ellipse class="n" stroke-width="1.6" cx="0" cy="0.5" rx="8.5" ry="6"/>
<path class="n" stroke-width="1.4" d="M-6.5,-0.5 Q-6.5,3.5 0,3.5 Q6.5,3.5 6.5,-0.5"/>
<path class="p" stroke-width="1.4" d="M9,-4 L15,-5 L15,5 L9,6 Z"/>
<path class="n" stroke-width="1.2" d="M12,-4.5 L12,5.5"/>
<path class="p" stroke-width="1.3" d="M15,-2 L20,-6 L22,-4 L16,1 Z"/>
</g></defs>
<use href="#clampH" transform="translate(659.4,818.3)"/>
<use href="#clampH" transform="translate(659.4,876.2)"/>
<use href="#clampH" transform="translate(659.4,927)"/>
<!-- joint 8 -->
<path class="p" d="M652.3,833.4 L652.3,860 Q659.4,866 666.5,860 L666.5,833.4 Z"/>
<ellipse class="p" cx="659.4" cy="833.4" rx="7.1" ry="3.5"/>
<ellipse class="n" cx="659.4" cy="833.4" rx="3.5" ry="1.8" stroke-width="1.2"/>
<!-- hose 9 elbow -->
<path class="p" d="M652.5,943.5 L652.5,956 Q653,963 660,963 L680,958.5 Q684.5,954 681,949 L666,950 L665,943.5 Z"/>
<ellipse class="p" cx="658.8" cy="943.5" rx="6.2" ry="3.2"/>
<ellipse class="n" cx="658.8" cy="943.3" rx="3.2" ry="1.5" stroke-width="1.2"/>
<!-- clamp vertical tab (side view) -->
<defs><g id="clampV">
<ellipse class="p" cx="0" cy="0" rx="6.5" ry="8.5" transform="rotate(-10)"/>
<path class="n" stroke-width="1.3" d="M-3,-6 Q-5,0 -2,6"/>
<path class="p" stroke-width="1.4" d="M2,-7 L9,-8 L10,0 L3,1 Z"/>
<path class="p" stroke-width="1.3" d="M6,-8 L8,-16 L10.5,-15.5 L9,-8 Z"/>
</g></defs>
<use href="#clampV" transform="translate(697.6,948.2)"/>
<use href="#clampV" transform="translate(775,927)"/>
<use href="#clampV" transform="translate(811,1061)"/>
<use href="#clampV" transform="translate(720,1111)"/>
<!-- joint 23 -->
<path class="p" d="M718,937 L729,934 L731,946 L720,948 Z"/>
<ellipse class="p" cx="718.3" cy="942.5" rx="3.5" ry="5.5" transform="rotate(-15 718.3 942.5)"/>
<path class="n" stroke-width="1.2" d="M722,936 Q720,942 723,947"/>
<path class="p" d="M740,933 L755,928 Q760,932 758.5,938.5 L743,943 Z"/>
<path class="t" d="M750,929.5 Q748,935 751,940 M754,928.5 Q752,934 755,939"/>
<path class="p" d="M729.5,946 L739.5,944 L739.7,959 L730,961 Z"/>
<ellipse class="p" cx="734.8" cy="959.5" rx="5" ry="2.5"/>
<path class="p" d="M728,933 Q735,928 742,932 Q745,938 742,944 Q735,948 729,945 Q725,939 728,933 Z"/>
<path class="n" stroke-width="1.2" d="M732,931 Q729,938 732,946"/>
<!-- clamp horizontal under 23 -->
<ellipse class="p" cx="733" cy="970.5" rx="9" ry="4.5" transform="rotate(12 733 970.5)"/>
<path class="n" stroke-width="1.3" d="M726,970 Q732,975 740,973"/>
<path class="p" stroke-width="1.4" d="M741,968 L746,969 L746,978 L741,977 Z"/>
<path class="p" stroke-width="1.3" d="M746,970.5 L754,970 L754,973 L746,973.5 Z"/>
<!-- clamp 21e (ring w/ tab down-left) -->
<ellipse class="p" cx="767" cy="972.3" rx="8" ry="5"/>
<path class="n" stroke-width="1.5" d="M759,972 Q759,978 767,979 Q775,978 775,972"/>
<path class="p" d="M764,975 L757,982 L760,985 L770,978 Z" stroke-width="1.4"/>
<!-- joint 31 -->
<path class="p" d="M759,991 L759,1025 Q767,1031 775,1025 L775,991 Z"/>
<ellipse class="p" cx="767" cy="991" rx="8" ry="4"/>
<ellipse class="n" cx="767" cy="991" rx="4" ry="2" stroke-width="1.2"/>
<!-- clamp 21g -->
<ellipse class="p" cx="767" cy="1040" rx="8" ry="5"/>
<path class="n" stroke-width="1.5" d="M759,1040 Q759,1046 767,1047 Q775,1046 775,1040"/>
<path class="p" d="M764,1043 L757,1050 L760,1053 L770,1046 Z" stroke-width="1.4"/>
<!-- hose 10 -->
<path d="M728.5,989 Q727,1010 716,1030" fill="none" stroke="#000" stroke-width="12.5" stroke-linecap="round"/>
<path d="M728.5,989 Q727,1010 716,1030" fill="none" stroke="#fff" stroke-width="9.3" stroke-linecap="round"/>
<ellipse class="p" cx="728.5" cy="988.5" rx="6" ry="3"/>
<ellipse class="n" cx="728.5" cy="988.5" rx="3" ry="1.4" stroke-width="1.2"/>
<!-- clamp 21h -->
<path class="p" d="M703,1043 Q702,1038 709,1039 L720,1044 L724,1048 L720,1052 L708,1050 Q702,1048 703,1043 Z"/>
<path class="n" stroke-width="1.3" d="M709,1039 L711,1050 M715,1042 L717,1051 M720,1047 L728,1049"/>
<!-- T-joint 29 -->
<path class="p" d="M737,1095 L795,1068 Q801,1071 799,1078 L741,1106 Z"/>
<path class="t" d="M785,1072 L789,1082 M790,1070 L794,1080"/>
<ellipse class="p" cx="739" cy="1101" rx="4.5" ry="6.5" transform="rotate(-25 739 1101)"/>
<path class="p" d="M760,1086 L776,1078 L779,1090 L763,1098 Z"/>
<path class="p" d="M762,1059 L772,1059 L772,1083 L762,1083 Z"/>
<ellipse class="p" cx="767" cy="1059" rx="5" ry="2.5"/>
<path class="t" d="M762,1068 H772 M762,1072 H772"/>
<!-- hoses 7 -->
<defs><g id="hose7">
<path d="M0,0 L0,12 Q1,22 8,24 Q10,30 0,34 L-9,38" fill="none" stroke="#000" stroke-width="12.5" stroke-linejoin="round" stroke-linecap="round"/>
<path d="M0,0 L0,12 Q1,22 8,24 Q10,30 0,34 L-9,38" fill="none" stroke="#fff" stroke-width="9.3" stroke-linejoin="round" stroke-linecap="round"/>
<ellipse class="p" cx="0" cy="0" rx="6" ry="3"/>
<ellipse class="n" cx="0" cy="0" rx="3" ry="1.4" stroke-width="1.2"/>
</g></defs>
<use href="#hose7" transform="translate(700.5,717)"/>
<use href="#hose7" transform="translate(845,717)"/>
<path class="n" stroke-width="1.3" d="M844,591.3 L844,714 M801.2,613.3 L844,591.3"/>
<!-- leaders -->
<path class="l" d="M729.5,719.8 L709.8,730.2 M892.7,731.3 L854.5,737.1 M754.9,743 L751.5,696.6 M944.9,1052.5 L914.4,1020.3 M882.3,1088.7 L841.7,1059.2 M848.4,1104.9 L814.6,1066 M804.4,1130.3 L774,1094.8 M750.3,1162.4 L723.2,1118.4 M670.1,1061 L702.9,1047.4 M913.6,853.4 L905.6,892.2"/>

</g>
<!-- hoses14 -->
<g id="hoses14">
<path d="M995.0,908.0 L995.1,908.0 L995.1,908.0 L995.2,907.9 L995.2,907.9 L995.3,907.9 L995.4,907.9 L995.4,907.8 L995.5,907.8 L995.6,907.8 L995.7,907.8 L995.7,907.7 L995.8,907.7 L995.9,907.7 L996.0,907.7 L996.0,907.6 L996.1,907.6 L996.2,907.6 L996.3,907.5 L996.3,907.5 L996.4,907.5 L996.5,907.4 L996.6,907.4 L996.7,907.4 L996.8,907.3 L996.8,907.3 L996.9,907.3 L997.0,907.2 L997.1,907.2 L997.2,907.1 L997.3,907.1 L997.4,907.1 L997.5,907.0 L997.6,907.0 L997.7,906.9 L997.8,906.9 L997.9,906.9 L998.0,906.8 L998.0,906.8 L998.1,906.7 L998.2,906.7 L998.3,906.6 L998.4,906.6 L998.6,906.6 L998.7,906.5 L998.8,906.5 L998.9,906.4 L999.0,906.4 L999.1,906.3 L999.2,906.3 L999.3,906.2 L999.4,906.2 L999.5,906.1 L999.6,906.1 L999.7,906.0 L999.8,906.0 L999.9,905.9 L1000.1,905.9 L1000.2,905.8 L1000.3,905.8 L1000.4,905.7 L1000.5,905.7 L1000.6,905.6 L1000.8,905.6 L1000.9,905.5 L1001.0,905.5 L1001.1,905.4 L1001.2,905.4 L1001.3,905.3 L1001.5,905.3 L1001.6,905.2 L1001.7,905.2 L1001.8,905.1 L1002.0,905.1 L1002.1,905.0 L1002.2,904.9 L1002.3,904.9 L1002.4,904.8 L1002.6,904.8 L1002.7,904.7 L1002.8,904.7 L1003.0,904.6 L1003.1,904.6 L1003.2,904.5 L1003.3,904.5 L1003.5,904.4 L1003.6,904.4 L1003.7,904.3 L1003.8,904.2 L1004.0,904.2 L1004.1,904.1 L1004.2,904.1 L1004.4,904.0 L1004.5,904.0 L1004.6,903.9 L1004.8,903.9 L1004.9,903.8 L1005.0,903.8 L1005.2,903.7 L1005.3,903.6 L1005.4,903.6 L1005.6,903.5 L1005.7,903.5 L1005.8,903.4 L1006.0,903.4 L1006.1,903.3 L1006.2,903.3 L1006.4,903.2 L1006.5,903.2 L1006.7,903.1 L1006.8,903.1 L1006.9,903.0 L1007.1,903.0 L1007.2,902.9 L1007.3,902.9 L1007.5,902.8 L1007.6,902.8 L1007.8,902.7 L1007.9,902.7 L1008.0,902.6 L1008.2,902.6 L1008.3,902.5 L1008.5,902.5 L1008.6,902.4 L1008.7,902.4 L1008.9,902.3 L1009.0,902.3 L1009.2,902.2 L1009.3,902.2 L1009.4,902.1 L1009.6,902.1 L1009.7,902.0 L1009.9,902.0 L1010.0,902.0 L1010.1,901.9 L1010.3,901.9 L1010.4,901.8 L1010.6,901.8 L1010.7,901.7 L1010.8,901.7 L1011.0,901.7 L1011.1,901.6 L1011.3,901.6 L1011.4,901.5 L1011.5,901.5 L1011.7,901.5 L1011.8,901.4 L1011.9,901.4 L1012.1,901.4 L1012.2,901.3 L1012.4,901.3 L1012.5,901.3 L1012.6,901.2 L1012.8,901.2 L1012.9,901.2 L1013.1,901.1 L1013.2,901.1 L1013.3,901.1 L1013.5,901.0 L1013.6,901.0 L1013.8,901.0 L1013.9,900.9 L1014.0,900.9 L1014.2,900.9 L1014.3,900.9 L1014.4,900.8 L1014.6,900.8 L1014.7,900.8 L1014.8,900.8 L1015.0,900.7 L1015.1,900.7 L1015.3,900.7 L1015.4,900.7 L1015.5,900.7 L1015.7,900.6 L1015.8,900.6 L1015.9,900.6 L1016.1,900.6 L1016.2,900.6 L1016.3,900.6 L1016.5,900.6 L1016.6,900.5 L1016.7,900.5 L1016.8,900.5 L1017.0,900.5 L1017.1,900.5 L1017.2,900.5 L1017.4,900.5 L1017.5,900.5 L1017.6,900.5 L1017.7,900.5 L1017.9,900.5 L1018.0,900.5 L1018.1,900.5 L1018.3,900.5 L1018.4,900.5 L1018.5,900.5 L1018.6,900.5 L1018.8,900.5 L1018.9,900.5 L1019.0,900.5 L1019.1,900.5 L1019.2,900.5 L1019.4,900.5 L1019.5,900.5 L1019.6,900.6 L1019.7,900.6 L1019.9,900.6 L1020.0,900.6 L1020.1,900.6 L1020.3,900.6 L1020.4,900.7 L1020.5,900.7 L1020.6,900.7 L1020.8,900.7 L1020.9,900.7 L1021.0,900.8 L1021.2,900.8 L1021.3,900.8 L1021.4,900.8 L1021.6,900.9 L1021.7,900.9 L1021.8,900.9 L1022.0,901.0 L1022.1,901.0 L1022.2,901.0 L1022.4,901.1 L1022.5,901.1 L1022.7,901.1 L1022.8,901.2 L1022.9,901.2 L1023.1,901.2 L1023.2,901.3 L1023.4,901.3 L1023.5,901.4 L1023.6,901.4 L1023.8,901.4 L1023.9,901.5 L1024.1,901.5 L1024.2,901.6 L1024.3,901.6 L1024.5,901.7 L1024.6,901.7 L1024.8,901.8 L1024.9,901.8 L1025.0,901.9 L1025.2,901.9 L1025.3,902.0 L1025.5,902.0 L1025.6,902.1 L1025.8,902.1 L1025.9,902.2 L1026.1,902.2 L1026.2,902.3 L1026.3,902.3 L1026.5,902.4 L1026.6,902.4 L1026.8,902.5 L1026.9,902.5 L1027.1,902.6 L1027.2,902.7 L1027.4,902.7 L1027.5,902.8 L1027.7,902.8 L1027.8,902.9 L1027.9,903.0 L1028.1,903.0 L1028.2,903.1 L1028.4,903.1 L1028.5,903.2 L1028.7,903.3 L1028.8,903.3 L1029.0,903.4 L1029.1,903.5 L1029.3,903.5 L1029.4,903.6 L1029.5,903.6 L1029.7,903.7 L1029.8,903.8 L1030.0,903.8 L1030.1,903.9 L1030.3,904.0 L1030.4,904.0 L1030.6,904.1 L1030.7,904.2 L1030.9,904.2 L1031.0,904.3 L1031.1,904.4 L1031.3,904.4 L1031.4,904.5 L1031.6,904.6 L1031.7,904.7 L1031.9,904.7 L1032.0,904.8 L1032.1,904.9 L1032.3,904.9 L1032.4,905.0 L1032.6,905.1 L1032.7,905.1 L1032.9,905.2 L1033.0,905.3 L1033.1,905.4 L1033.3,905.4 L1033.4,905.5 L1033.6,905.6 L1033.7,905.6 L1033.8,905.7 L1034.0,905.8 L1034.1,905.8 L1034.3,905.9 L1034.4,906.0 L1034.5,906.1 L1034.7,906.1 L1034.8,906.2 L1034.9,906.3 L1035.1,906.3 L1035.2,906.4 L1035.3,906.5 L1035.5,906.6 L1035.6,906.6 L1035.8,906.7 L1035.9,906.8 L1036.0,906.8 L1036.1,906.9 L1036.3,907.0 L1036.4,907.0 L1036.5,907.1 L1036.7,907.2 L1036.8,907.2 L1036.9,907.3 L1037.1,907.4 L1037.2,907.5 L1037.3,907.5 L1037.4,907.6 L1037.6,907.7 L1037.7,907.7 L1037.8,907.8 L1037.9,907.9 L1038.1,907.9 L1038.2,908.0 L1038.3,908.1 L1038.4,908.1 L1038.5,908.2 L1038.7,908.2 L1038.8,908.3 L1038.9,908.4 L1039.0,908.4 L1039.1,908.5 L1039.3,908.6 L1039.4,908.6 L1039.5,908.7 L1039.6,908.8 L1039.7,908.8 L1039.8,908.9 L1039.9,908.9 L1040.0,909.0 L1040.2,909.1 L1040.3,909.1 L1040.4,909.2 L1040.5,909.2 L1040.6,909.3 L1040.7,909.3 L1040.8,909.4 L1040.9,909.5 L1041.0,909.5 L1041.1,909.6 L1041.2,909.6 L1041.3,909.7 L1041.4,909.7 L1041.5,909.8 L1041.6,909.8 L1041.7,909.9 L1041.8,909.9 L1041.9,910.0 L1042.0,910.0 L1042.1,910.1 L1042.2,910.1 L1042.2,910.2 L1042.3,910.2 L1042.4,910.3 L1042.5,910.3 L1042.6,910.3 L1042.7,910.4 L1042.8,910.4 L1042.8,910.5 L1042.9,910.5 L1043.0,910.5 L1043.1,910.6 L1043.2,910.6 L1043.2,910.7 L1043.3,910.7 L1043.4,910.7 L1043.5,910.8 L1043.5,910.8 L1043.6,910.8 L1043.7,910.9 L1043.7,910.9 L1043.8,910.9 L1043.9,910.9 L1043.9,911.0 L1044.0,911.0" fill="none" stroke="#000" stroke-width="11.2"/>
<path d="M995.0,908.0 L995.1,908.0 L995.1,908.0 L995.2,907.9 L995.2,907.9 L995.3,907.9 L995.4,907.9 L995.4,907.8 L995.5,907.8 L995.6,907.8 L995.7,907.8 L995.7,907.7 L995.8,907.7 L995.9,907.7 L996.0,907.7 L996.0,907.6 L996.1,907.6 L996.2,907.6 L996.3,907.5 L996.3,907.5 L996.4,907.5 L996.5,907.4 L996.6,907.4 L996.7,907.4 L996.8,907.3 L996.8,907.3 L996.9,907.3 L997.0,907.2 L997.1,907.2 L997.2,907.1 L997.3,907.1 L997.4,907.1 L997.5,907.0 L997.6,907.0 L997.7,906.9 L997.8,906.9 L997.9,906.9 L998.0,906.8 L998.0,906.8 L998.1,906.7 L998.2,906.7 L998.3,906.6 L998.4,906.6 L998.6,906.6 L998.7,906.5 L998.8,906.5 L998.9,906.4 L999.0,906.4 L999.1,906.3 L999.2,906.3 L999.3,906.2 L999.4,906.2 L999.5,906.1 L999.6,906.1 L999.7,906.0 L999.8,906.0 L999.9,905.9 L1000.1,905.9 L1000.2,905.8 L1000.3,905.8 L1000.4,905.7 L1000.5,905.7 L1000.6,905.6 L1000.8,905.6 L1000.9,905.5 L1001.0,905.5 L1001.1,905.4 L1001.2,905.4 L1001.3,905.3 L1001.5,905.3 L1001.6,905.2 L1001.7,905.2 L1001.8,905.1 L1002.0,905.1 L1002.1,905.0 L1002.2,904.9 L1002.3,904.9 L1002.4,904.8 L1002.6,904.8 L1002.7,904.7 L1002.8,904.7 L1003.0,904.6 L1003.1,904.6 L1003.2,904.5 L1003.3,904.5 L1003.5,904.4 L1003.6,904.4 L1003.7,904.3 L1003.8,904.2 L1004.0,904.2 L1004.1,904.1 L1004.2,904.1 L1004.4,904.0 L1004.5,904.0 L1004.6,903.9 L1004.8,903.9 L1004.9,903.8 L1005.0,903.8 L1005.2,903.7 L1005.3,903.6 L1005.4,903.6 L1005.6,903.5 L1005.7,903.5 L1005.8,903.4 L1006.0,903.4 L1006.1,903.3 L1006.2,903.3 L1006.4,903.2 L1006.5,903.2 L1006.7,903.1 L1006.8,903.1 L1006.9,903.0 L1007.1,903.0 L1007.2,902.9 L1007.3,902.9 L1007.5,902.8 L1007.6,902.8 L1007.8,902.7 L1007.9,902.7 L1008.0,902.6 L1008.2,902.6 L1008.3,902.5 L1008.5,902.5 L1008.6,902.4 L1008.7,902.4 L1008.9,902.3 L1009.0,902.3 L1009.2,902.2 L1009.3,902.2 L1009.4,902.1 L1009.6,902.1 L1009.7,902.0 L1009.9,902.0 L1010.0,902.0 L1010.1,901.9 L1010.3,901.9 L1010.4,901.8 L1010.6,901.8 L1010.7,901.7 L1010.8,901.7 L1011.0,901.7 L1011.1,901.6 L1011.3,901.6 L1011.4,901.5 L1011.5,901.5 L1011.7,901.5 L1011.8,901.4 L1011.9,901.4 L1012.1,901.4 L1012.2,901.3 L1012.4,901.3 L1012.5,901.3 L1012.6,901.2 L1012.8,901.2 L1012.9,901.2 L1013.1,901.1 L1013.2,901.1 L1013.3,901.1 L1013.5,901.0 L1013.6,901.0 L1013.8,901.0 L1013.9,900.9 L1014.0,900.9 L1014.2,900.9 L1014.3,900.9 L1014.4,900.8 L1014.6,900.8 L1014.7,900.8 L1014.8,900.8 L1015.0,900.7 L1015.1,900.7 L1015.3,900.7 L1015.4,900.7 L1015.5,900.7 L1015.7,900.6 L1015.8,900.6 L1015.9,900.6 L1016.1,900.6 L1016.2,900.6 L1016.3,900.6 L1016.5,900.6 L1016.6,900.5 L1016.7,900.5 L1016.8,900.5 L1017.0,900.5 L1017.1,900.5 L1017.2,900.5 L1017.4,900.5 L1017.5,900.5 L1017.6,900.5 L1017.7,900.5 L1017.9,900.5 L1018.0,900.5 L1018.1,900.5 L1018.3,900.5 L1018.4,900.5 L1018.5,900.5 L1018.6,900.5 L1018.8,900.5 L1018.9,900.5 L1019.0,900.5 L1019.1,900.5 L1019.2,900.5 L1019.4,900.5 L1019.5,900.5 L1019.6,900.6 L1019.7,900.6 L1019.9,900.6 L1020.0,900.6 L1020.1,900.6 L1020.3,900.6 L1020.4,900.7 L1020.5,900.7 L1020.6,900.7 L1020.8,900.7 L1020.9,900.7 L1021.0,900.8 L1021.2,900.8 L1021.3,900.8 L1021.4,900.8 L1021.6,900.9 L1021.7,900.9 L1021.8,900.9 L1022.0,901.0 L1022.1,901.0 L1022.2,901.0 L1022.4,901.1 L1022.5,901.1 L1022.7,901.1 L1022.8,901.2 L1022.9,901.2 L1023.1,901.2 L1023.2,901.3 L1023.4,901.3 L1023.5,901.4 L1023.6,901.4 L1023.8,901.4 L1023.9,901.5 L1024.1,901.5 L1024.2,901.6 L1024.3,901.6 L1024.5,901.7 L1024.6,901.7 L1024.8,901.8 L1024.9,901.8 L1025.0,901.9 L1025.2,901.9 L1025.3,902.0 L1025.5,902.0 L1025.6,902.1 L1025.8,902.1 L1025.9,902.2 L1026.1,902.2 L1026.2,902.3 L1026.3,902.3 L1026.5,902.4 L1026.6,902.4 L1026.8,902.5 L1026.9,902.5 L1027.1,902.6 L1027.2,902.7 L1027.4,902.7 L1027.5,902.8 L1027.7,902.8 L1027.8,902.9 L1027.9,903.0 L1028.1,903.0 L1028.2,903.1 L1028.4,903.1 L1028.5,903.2 L1028.7,903.3 L1028.8,903.3 L1029.0,903.4 L1029.1,903.5 L1029.3,903.5 L1029.4,903.6 L1029.5,903.6 L1029.7,903.7 L1029.8,903.8 L1030.0,903.8 L1030.1,903.9 L1030.3,904.0 L1030.4,904.0 L1030.6,904.1 L1030.7,904.2 L1030.9,904.2 L1031.0,904.3 L1031.1,904.4 L1031.3,904.4 L1031.4,904.5 L1031.6,904.6 L1031.7,904.7 L1031.9,904.7 L1032.0,904.8 L1032.1,904.9 L1032.3,904.9 L1032.4,905.0 L1032.6,905.1 L1032.7,905.1 L1032.9,905.2 L1033.0,905.3 L1033.1,905.4 L1033.3,905.4 L1033.4,905.5 L1033.6,905.6 L1033.7,905.6 L1033.8,905.7 L1034.0,905.8 L1034.1,905.8 L1034.3,905.9 L1034.4,906.0 L1034.5,906.1 L1034.7,906.1 L1034.8,906.2 L1034.9,906.3 L1035.1,906.3 L1035.2,906.4 L1035.3,906.5 L1035.5,906.6 L1035.6,906.6 L1035.8,906.7 L1035.9,906.8 L1036.0,906.8 L1036.1,906.9 L1036.3,907.0 L1036.4,907.0 L1036.5,907.1 L1036.7,907.2 L1036.8,907.2 L1036.9,907.3 L1037.1,907.4 L1037.2,907.5 L1037.3,907.5 L1037.4,907.6 L1037.6,907.7 L1037.7,907.7 L1037.8,907.8 L1037.9,907.9 L1038.1,907.9 L1038.2,908.0 L1038.3,908.1 L1038.4,908.1 L1038.5,908.2 L1038.7,908.2 L1038.8,908.3 L1038.9,908.4 L1039.0,908.4 L1039.1,908.5 L1039.3,908.6 L1039.4,908.6 L1039.5,908.7 L1039.6,908.8 L1039.7,908.8 L1039.8,908.9 L1039.9,908.9 L1040.0,909.0 L1040.2,909.1 L1040.3,909.1 L1040.4,909.2 L1040.5,909.2 L1040.6,909.3 L1040.7,909.3 L1040.8,909.4 L1040.9,909.5 L1041.0,909.5 L1041.1,909.6 L1041.2,909.6 L1041.3,909.7 L1041.4,909.7 L1041.5,909.8 L1041.6,909.8 L1041.7,909.9 L1041.8,909.9 L1041.9,910.0 L1042.0,910.0 L1042.1,910.1 L1042.2,910.1 L1042.2,910.2 L1042.3,910.2 L1042.4,910.3 L1042.5,910.3 L1042.6,910.3 L1042.7,910.4 L1042.8,910.4 L1042.8,910.5 L1042.9,910.5 L1043.0,910.5 L1043.1,910.6 L1043.2,910.6 L1043.2,910.7 L1043.3,910.7 L1043.4,910.7 L1043.5,910.8 L1043.5,910.8 L1043.6,910.8 L1043.7,910.9 L1043.7,910.9 L1043.8,910.9 L1043.9,910.9 L1043.9,911.0 L1044.0,911.0" fill="none" stroke="#fff" stroke-width="8"/>
<ellipse class="p" cx="1045" cy="911.2" rx="4.5" ry="5.5" transform="rotate(-20 1045 911.2)"/><ellipse class="n" cx="1045" cy="911.2" rx="2" ry="2.6" stroke-width="1.2"/>
<path d="M824.9,915.5 L825.1,915.4 L825.4,915.3 L825.6,915.3 L825.9,915.2 L826.2,915.1 L826.5,915.0 L826.8,914.9 L827.1,914.7 L827.4,914.6 L827.7,914.5 L828.1,914.4 L828.5,914.3 L828.8,914.1 L829.2,914.0 L829.6,913.9 L830.0,913.7 L830.4,913.6 L830.8,913.4 L831.2,913.3 L831.7,913.1 L832.1,913.0 L832.6,912.8 L833.0,912.7 L833.5,912.5 L833.9,912.3 L834.4,912.2 L834.9,912.0 L835.4,911.8 L835.8,911.7 L836.3,911.5 L836.8,911.3 L837.3,911.2 L837.8,911.0 L838.3,910.8 L838.8,910.6 L839.3,910.5 L839.8,910.3 L840.4,910.1 L840.9,909.9 L841.4,909.8 L841.9,909.6 L842.4,909.4 L842.9,909.2 L843.5,909.1 L844.0,908.9 L844.5,908.7 L845.0,908.6 L845.5,908.4 L846.0,908.2 L846.5,908.1 L847.0,907.9 L847.5,907.8 L848.0,907.6 L848.5,907.4 L849.0,907.3 L849.5,907.1 L850.0,907.0 L850.5,906.9 L851.0,906.7 L851.5,906.6 L851.9,906.4 L852.4,906.2 L852.9,906.1 L853.4,905.9 L853.9,905.8 L854.4,905.6 L854.9,905.5 L855.4,905.3 L855.9,905.1 L856.5,905.0 L857.0,904.8 L857.5,904.6 L858.0,904.5 L858.5,904.3 L859.0,904.1 L859.6,904.0 L860.1,903.8 L860.6,903.6 L861.1,903.5 L861.6,903.3 L862.2,903.1 L862.7,903.0 L863.2,902.8 L863.8,902.6 L864.3,902.5 L864.8,902.3 L865.3,902.2 L865.9,902.0 L866.4,901.9 L866.9,901.7 L867.5,901.6 L868.0,901.4 L868.5,901.3 L869.1,901.1 L869.6,901.0 L870.1,900.8 L870.7,900.7 L871.2,900.6 L871.8,900.4 L872.3,900.3 L872.8,900.2 L873.4,900.1 L873.9,900.0 L874.4,899.9 L875.0,899.8 L875.5,899.7 L876.0,899.6 L876.5,899.5 L877.1,899.4 L877.6,899.3 L878.1,899.2 L878.7,899.1 L879.2,899.1 L879.7,899.0 L880.2,898.9 L880.7,898.9 L881.3,898.8 L881.8,898.8 L882.3,898.7 L882.9,898.7 L883.4,898.7 L883.9,898.6 L884.5,898.6 L885.0,898.5 L885.5,898.5 L886.1,898.5 L886.6,898.5 L887.1,898.5 L887.7,898.4 L888.2,898.4 L888.7,898.4 L889.3,898.4 L889.8,898.4 L890.4,898.4 L890.9,898.4 L891.4,898.4 L892.0,898.4 L892.5,898.4 L893.0,898.4 L893.6,898.5 L894.1,898.5 L894.7,898.5 L895.2,898.5 L895.7,898.5 L896.3,898.6 L896.8,898.6 L897.3,898.6 L897.8,898.7 L898.4,898.7 L898.9,898.7 L899.4,898.8 L900.0,898.8 L900.5,898.9 L901.0,898.9 L901.5,899.0 L902.0,899.0 L902.6,899.1 L903.1,899.1 L903.6,899.2 L904.1,899.2 L904.6,899.3 L905.1,899.4 L905.6,899.4 L906.1,899.5 L906.6,899.6 L907.1,899.6 L907.6,899.7 L908.1,899.8 L908.6,899.8 L909.1,899.9 L909.6,900.0 L910.1,900.1 L910.6,900.2 L911.1,900.3 L911.5,900.4 L912.0,900.5 L912.5,900.6 L913.0,900.7 L913.4,900.8 L913.9,900.9 L914.4,901.0 L914.9,901.1 L915.3,901.3 L915.8,901.4 L916.3,901.5 L916.8,901.7 L917.2,901.8 L917.7,901.9 L918.2,902.1 L918.6,902.2 L919.1,902.4 L919.5,902.5 L920.0,902.7 L920.5,902.8 L920.9,903.0 L921.4,903.1 L921.8,903.3 L922.3,903.4 L922.7,903.6 L923.2,903.8 L923.6,903.9 L924.1,904.1 L924.5,904.3 L925.0,904.4 L925.4,904.6 L925.8,904.7 L926.3,904.9 L926.7,905.1 L927.1,905.2 L927.6,905.4 L928.0,905.5 L928.4,905.7 L928.9,905.9 L929.3,906.0 L929.7,906.2 L930.1,906.3 L930.5,906.5 L931.0,906.6 L931.4,906.8 L931.8,906.9 L932.2,907.1 L932.6,907.2 L933.0,907.3 L933.4,907.5 L933.8,907.6 L934.2,907.7 L934.6,907.9 L935.0,908.0 L935.4,908.1 L935.8,908.2 L936.2,908.4 L936.5,908.5 L936.9,908.6 L937.3,908.8 L937.7,908.9 L938.0,909.0 L938.4,909.2 L938.8,909.3 L939.1,909.4 L939.5,909.6 L939.8,909.7 L940.2,909.8 L940.5,910.0 L940.9,910.1 L941.2,910.2 L941.6,910.3 L941.9,910.5 L942.2,910.6 L942.6,910.7 L942.9,910.9 L943.2,911.0 L943.6,911.1 L943.9,911.3 L944.2,911.4 L944.6,911.5 L944.9,911.6 L945.2,911.7 L945.5,911.9 L945.9,912.0 L946.2,912.1 L946.5,912.2 L946.8,912.3 L947.2,912.4 L947.5,912.5 L947.8,912.6 L948.1,912.7 L948.5,912.8 L948.8,912.9 L949.1,913.0 L949.4,913.1 L949.8,913.2 L950.1,913.3 L950.4,913.4 L950.8,913.4 L951.1,913.5 L951.4,913.6 L951.8,913.6 L952.1,913.7 L952.4,913.8 L952.8,913.8 L953.1,913.9 L953.5,913.9 L953.8,913.9 L954.2,914.0 L954.5,914.0 L954.9,914.0 L955.2,914.0 L955.6,914.1 L955.9,914.1 L956.3,914.1 L956.6,914.1 L957.0,914.1 L957.3,914.1 L957.7,914.1 L958.0,914.0 L958.4,914.0 L958.7,914.0 L959.1,914.0 L959.4,914.0 L959.8,913.9 L960.1,913.9 L960.5,913.9 L960.8,913.8 L961.2,913.8 L961.6,913.7 L961.9,913.7 L962.3,913.6 L962.6,913.6 L963.0,913.5 L963.3,913.5 L963.7,913.4 L964.1,913.3 L964.4,913.3 L964.8,913.2 L965.1,913.1 L965.5,913.1 L965.9,913.0 L966.2,912.9 L966.6,912.9 L966.9,912.8 L967.3,912.7 L967.7,912.6 L968.0,912.6 L968.4,912.5 L968.7,912.4 L969.1,912.3 L969.5,912.2 L969.8,912.2 L970.2,912.1 L970.6,912.0 L970.9,911.9 L971.3,911.8 L971.7,911.7 L972.0,911.7 L972.4,911.6 L972.8,911.5 L973.1,911.4 L973.5,911.3 L973.9,911.2 L974.3,911.2 L974.6,911.1 L975.0,911.0 L975.4,910.9 L975.8,910.8 L976.2,910.7 L976.5,910.7 L977.0,910.6 L977.4,910.5 L977.8,910.4 L978.2,910.3 L978.6,910.2 L979.0,910.1 L979.5,909.9 L979.9,909.8 L980.4,909.7 L980.8,909.6 L981.2,909.5 L981.7,909.4 L982.1,909.2 L982.6,909.1 L983.0,909.0 L983.5,908.9 L983.9,908.8 L984.4,908.6 L984.8,908.5 L985.3,908.4 L985.7,908.3 L986.2,908.1 L986.6,908.0 L987.1,907.9 L987.5,907.8 L987.9,907.6 L988.4,907.5 L988.8,907.4 L989.2,907.3 L989.6,907.1 L990.0,907.0 L990.4,906.9 L990.8,906.8 L991.2,906.7 L991.6,906.6 L992.0,906.4 L992.4,906.3 L992.7,906.2 L993.1,906.1 L993.4,906.0 L993.8,905.9 L994.1,905.8 L994.4,905.7 L994.7,905.6 L995.0,905.6 L995.3,905.5 L995.6,905.4 L995.9,905.3 L996.1,905.2 L996.4,905.2 L996.6,905.1 L996.8,905.1 L997.0,905.0" fill="none" stroke="#000" stroke-width="16.7" stroke-linecap="butt"/>
<path d="M824.9,915.5 L825.1,915.4 L825.4,915.3 L825.6,915.3 L825.9,915.2 L826.2,915.1 L826.5,915.0 L826.8,914.9 L827.1,914.7 L827.4,914.6 L827.7,914.5 L828.1,914.4 L828.5,914.3 L828.8,914.1 L829.2,914.0 L829.6,913.9 L830.0,913.7 L830.4,913.6 L830.8,913.4 L831.2,913.3 L831.7,913.1 L832.1,913.0 L832.6,912.8 L833.0,912.7 L833.5,912.5 L833.9,912.3 L834.4,912.2 L834.9,912.0 L835.4,911.8 L835.8,911.7 L836.3,911.5 L836.8,911.3 L837.3,911.2 L837.8,911.0 L838.3,910.8 L838.8,910.6 L839.3,910.5 L839.8,910.3 L840.4,910.1 L840.9,909.9 L841.4,909.8 L841.9,909.6 L842.4,909.4 L842.9,909.2 L843.5,909.1 L844.0,908.9 L844.5,908.7 L845.0,908.6 L845.5,908.4 L846.0,908.2 L846.5,908.1 L847.0,907.9 L847.5,907.8 L848.0,907.6 L848.5,907.4 L849.0,907.3 L849.5,907.1 L850.0,907.0 L850.5,906.9 L851.0,906.7 L851.5,906.6 L851.9,906.4 L852.4,906.2 L852.9,906.1 L853.4,905.9 L853.9,905.8 L854.4,905.6 L854.9,905.5 L855.4,905.3 L855.9,905.1 L856.5,905.0 L857.0,904.8 L857.5,904.6 L858.0,904.5 L858.5,904.3 L859.0,904.1 L859.6,904.0 L860.1,903.8 L860.6,903.6 L861.1,903.5 L861.6,903.3 L862.2,903.1 L862.7,903.0 L863.2,902.8 L863.8,902.6 L864.3,902.5 L864.8,902.3 L865.3,902.2 L865.9,902.0 L866.4,901.9 L866.9,901.7 L867.5,901.6 L868.0,901.4 L868.5,901.3 L869.1,901.1 L869.6,901.0 L870.1,900.8 L870.7,900.7 L871.2,900.6 L871.8,900.4 L872.3,900.3 L872.8,900.2 L873.4,900.1 L873.9,900.0 L874.4,899.9 L875.0,899.8 L875.5,899.7 L876.0,899.6 L876.5,899.5 L877.1,899.4 L877.6,899.3 L878.1,899.2 L878.7,899.1 L879.2,899.1 L879.7,899.0 L880.2,898.9 L880.7,898.9 L881.3,898.8 L881.8,898.8 L882.3,898.7 L882.9,898.7 L883.4,898.7 L883.9,898.6 L884.5,898.6 L885.0,898.5 L885.5,898.5 L886.1,898.5 L886.6,898.5 L887.1,898.5 L887.7,898.4 L888.2,898.4 L888.7,898.4 L889.3,898.4 L889.8,898.4 L890.4,898.4 L890.9,898.4 L891.4,898.4 L892.0,898.4 L892.5,898.4 L893.0,898.4 L893.6,898.5 L894.1,898.5 L894.7,898.5 L895.2,898.5 L895.7,898.5 L896.3,898.6 L896.8,898.6 L897.3,898.6 L897.8,898.7 L898.4,898.7 L898.9,898.7 L899.4,898.8 L900.0,898.8 L900.5,898.9 L901.0,898.9 L901.5,899.0 L902.0,899.0 L902.6,899.1 L903.1,899.1 L903.6,899.2 L904.1,899.2 L904.6,899.3 L905.1,899.4 L905.6,899.4 L906.1,899.5 L906.6,899.6 L907.1,899.6 L907.6,899.7 L908.1,899.8 L908.6,899.8 L909.1,899.9 L909.6,900.0 L910.1,900.1 L910.6,900.2 L911.1,900.3 L911.5,900.4 L912.0,900.5 L912.5,900.6 L913.0,900.7 L913.4,900.8 L913.9,900.9 L914.4,901.0 L914.9,901.1 L915.3,901.3 L915.8,901.4 L916.3,901.5 L916.8,901.7 L917.2,901.8 L917.7,901.9 L918.2,902.1 L918.6,902.2 L919.1,902.4 L919.5,902.5 L920.0,902.7 L920.5,902.8 L920.9,903.0 L921.4,903.1 L921.8,903.3 L922.3,903.4 L922.7,903.6 L923.2,903.8 L923.6,903.9 L924.1,904.1 L924.5,904.3 L925.0,904.4 L925.4,904.6 L925.8,904.7 L926.3,904.9 L926.7,905.1 L927.1,905.2 L927.6,905.4 L928.0,905.5 L928.4,905.7 L928.9,905.9 L929.3,906.0 L929.7,906.2 L930.1,906.3 L930.5,906.5 L931.0,906.6 L931.4,906.8 L931.8,906.9 L932.2,907.1 L932.6,907.2 L933.0,907.3 L933.4,907.5 L933.8,907.6 L934.2,907.7 L934.6,907.9 L935.0,908.0 L935.4,908.1 L935.8,908.2 L936.2,908.4 L936.5,908.5 L936.9,908.6 L937.3,908.8 L937.7,908.9 L938.0,909.0 L938.4,909.2 L938.8,909.3 L939.1,909.4 L939.5,909.6 L939.8,909.7 L940.2,909.8 L940.5,910.0 L940.9,910.1 L941.2,910.2 L941.6,910.3 L941.9,910.5 L942.2,910.6 L942.6,910.7 L942.9,910.9 L943.2,911.0 L943.6,911.1 L943.9,911.3 L944.2,911.4 L944.6,911.5 L944.9,911.6 L945.2,911.7 L945.5,911.9 L945.9,912.0 L946.2,912.1 L946.5,912.2 L946.8,912.3 L947.2,912.4 L947.5,912.5 L947.8,912.6 L948.1,912.7 L948.5,912.8 L948.8,912.9 L949.1,913.0 L949.4,913.1 L949.8,913.2 L950.1,913.3 L950.4,913.4 L950.8,913.4 L951.1,913.5 L951.4,913.6 L951.8,913.6 L952.1,913.7 L952.4,913.8 L952.8,913.8 L953.1,913.9 L953.5,913.9 L953.8,913.9 L954.2,914.0 L954.5,914.0 L954.9,914.0 L955.2,914.0 L955.6,914.1 L955.9,914.1 L956.3,914.1 L956.6,914.1 L957.0,914.1 L957.3,914.1 L957.7,914.1 L958.0,914.0 L958.4,914.0 L958.7,914.0 L959.1,914.0 L959.4,914.0 L959.8,913.9 L960.1,913.9 L960.5,913.9 L960.8,913.8 L961.2,913.8 L961.6,913.7 L961.9,913.7 L962.3,913.6 L962.6,913.6 L963.0,913.5 L963.3,913.5 L963.7,913.4 L964.1,913.3 L964.4,913.3 L964.8,913.2 L965.1,913.1 L965.5,913.1 L965.9,913.0 L966.2,912.9 L966.6,912.9 L966.9,912.8 L967.3,912.7 L967.7,912.6 L968.0,912.6 L968.4,912.5 L968.7,912.4 L969.1,912.3 L969.5,912.2 L969.8,912.2 L970.2,912.1 L970.6,912.0 L970.9,911.9 L971.3,911.8 L971.7,911.7 L972.0,911.7 L972.4,911.6 L972.8,911.5 L973.1,911.4 L973.5,911.3 L973.9,911.2 L974.3,911.2 L974.6,911.1 L975.0,911.0 L975.4,910.9 L975.8,910.8 L976.2,910.7 L976.5,910.7 L977.0,910.6 L977.4,910.5 L977.8,910.4 L978.2,910.3 L978.6,910.2 L979.0,910.1 L979.5,909.9 L979.9,909.8 L980.4,909.7 L980.8,909.6 L981.2,909.5 L981.7,909.4 L982.1,909.2 L982.6,909.1 L983.0,909.0 L983.5,908.9 L983.9,908.8 L984.4,908.6 L984.8,908.5 L985.3,908.4 L985.7,908.3 L986.2,908.1 L986.6,908.0 L987.1,907.9 L987.5,907.8 L987.9,907.6 L988.4,907.5 L988.8,907.4 L989.2,907.3 L989.6,907.1 L990.0,907.0 L990.4,906.9 L990.8,906.8 L991.2,906.7 L991.6,906.6 L992.0,906.4 L992.4,906.3 L992.7,906.2 L993.1,906.1 L993.4,906.0 L993.8,905.9 L994.1,905.8 L994.4,905.7 L994.7,905.6 L995.0,905.6 L995.3,905.5 L995.6,905.4 L995.9,905.3 L996.1,905.2 L996.4,905.2 L996.6,905.1 L996.8,905.1 L997.0,905.0" fill="none" stroke="#fff" stroke-width="13.5" stroke-linecap="butt"/>
<path class="n" stroke-width="1.3" d="M833.3,920.5 Q836.0,911.6 828.3,906.3 M842.8,917.3 Q845.6,908.3 837.9,903.0 M852.2,914.2 Q855.3,905.4 847.8,899.8 M861.9,911.2 Q864.8,902.3 857.3,896.8 M871.0,908.4 Q874.4,899.7 867.2,893.8 M879.6,906.6 Q884.1,898.4 877.7,891.6 M888.8,906.0 Q894.2,898.3 888.6,890.9 M897.8,906.2 Q903.9,899.1 898.9,891.2 M907.5,907.3 Q914.1,900.7 909.8,892.4 M915.9,909.3 Q923.4,903.7 920.4,894.9 M924.9,912.5 Q932.7,907.3 930.2,898.3 M934.5,915.8 Q942.1,910.4 939.4,901.5 M944.1,919.4 Q951.7,914.0 949.0,905.1 M956.2,921.6 Q961.8,914.1 956.3,906.5 M967.7,920.3 Q971.6,911.8 964.7,905.5 M977.4,918.2 Q981.1,909.6 974.1,903.5 M987.8,915.5 Q991.0,906.8 983.7,901.0 M997.1,912.8 Q1000.3,904.0 992.9,898.3"/>
<path class="n" stroke-width="1.5" d="M995,896 L999,912"/>
<path class="p" d="M799,913.7 L822.4,908.7 L826.1,921.1 L802.4,926.1 Z"/>
<path class="p" d="M822,906 L829,905 L832,920 L826,922 Z" stroke-width="1.4"/>
<ellipse class="p" cx="798.7" cy="919.9" rx="4.3" ry="6.5" transform="rotate(-15 798.7 919.9)"/><ellipse class="n" cx="798.7" cy="919.9" rx="1.8" ry="3" stroke-width="1.3"/>
<path d="M1000.0,930.0 L1000.0,930.0 L1000.1,930.0 L1000.1,929.9 L1000.2,929.9 L1000.3,929.9 L1000.3,929.8 L1000.4,929.8 L1000.4,929.8 L1000.5,929.7 L1000.5,929.7 L1000.6,929.7 L1000.6,929.6 L1000.7,929.6 L1000.8,929.6 L1000.8,929.5 L1000.9,929.5 L1000.9,929.5 L1001.0,929.4 L1001.1,929.4 L1001.1,929.3 L1001.2,929.3 L1001.3,929.3 L1001.3,929.2 L1001.4,929.2 L1001.5,929.1 L1001.5,929.1 L1001.6,929.0 L1001.7,929.0 L1001.7,929.0 L1001.8,928.9 L1001.9,928.9 L1001.9,928.8 L1002.0,928.8 L1002.1,928.7 L1002.2,928.7 L1002.2,928.6 L1002.3,928.6 L1002.4,928.5 L1002.5,928.5 L1002.5,928.4 L1002.6,928.4 L1002.7,928.3 L1002.8,928.2 L1002.9,928.2 L1002.9,928.1 L1003.0,928.1 L1003.1,928.0 L1003.2,928.0 L1003.3,927.9 L1003.3,927.8 L1003.4,927.8 L1003.5,927.7 L1003.6,927.7 L1003.7,927.6 L1003.8,927.6 L1003.9,927.5 L1003.9,927.4 L1004.0,927.4 L1004.1,927.3 L1004.2,927.2 L1004.3,927.2 L1004.4,927.1 L1004.5,927.1 L1004.6,927.0 L1004.7,926.9 L1004.7,926.9 L1004.8,926.8 L1004.9,926.7 L1005.0,926.7 L1005.1,926.6 L1005.2,926.6 L1005.3,926.5 L1005.4,926.4 L1005.5,926.4 L1005.6,926.3 L1005.7,926.2 L1005.8,926.2 L1005.9,926.1 L1006.0,926.0 L1006.1,926.0 L1006.2,925.9 L1006.3,925.8 L1006.4,925.8 L1006.5,925.7 L1006.6,925.6 L1006.7,925.6 L1006.8,925.5 L1006.9,925.4 L1007.0,925.4 L1007.1,925.3 L1007.2,925.2 L1007.3,925.2 L1007.4,925.1 L1007.5,925.0 L1007.6,925.0 L1007.7,924.9 L1007.8,924.9 L1007.9,924.8 L1008.0,924.7 L1008.1,924.7 L1008.2,924.6 L1008.3,924.5 L1008.4,924.5 L1008.5,924.4 L1008.6,924.3 L1008.7,924.3 L1008.8,924.2 L1009.0,924.1 L1009.1,924.1 L1009.2,924.0 L1009.3,923.9 L1009.4,923.9 L1009.5,923.8 L1009.6,923.8 L1009.7,923.7 L1009.8,923.6 L1009.9,923.6 L1010.0,923.5 L1010.2,923.4 L1010.3,923.4 L1010.4,923.3 L1010.5,923.3 L1010.6,923.2 L1010.7,923.1 L1010.8,923.1 L1010.9,923.0 L1011.0,923.0 L1011.2,922.9 L1011.3,922.9 L1011.4,922.8 L1011.5,922.7 L1011.6,922.7 L1011.7,922.6 L1011.8,922.6 L1011.9,922.5 L1012.1,922.5 L1012.2,922.4 L1012.3,922.4 L1012.4,922.3 L1012.5,922.3 L1012.6,922.2 L1012.7,922.1 L1012.8,922.1 L1013.0,922.0 L1013.1,922.0 L1013.2,922.0 L1013.3,921.9 L1013.4,921.9 L1013.5,921.8 L1013.6,921.8 L1013.8,921.7 L1013.9,921.7 L1014.0,921.6 L1014.1,921.6 L1014.2,921.5 L1014.3,921.5 L1014.4,921.5 L1014.6,921.4 L1014.7,921.4 L1014.8,921.3 L1014.9,921.3 L1015.0,921.3 L1015.1,921.2 L1015.2,921.2 L1015.4,921.2 L1015.5,921.1 L1015.6,921.1 L1015.7,921.0 L1015.8,921.0 L1015.9,921.0 L1016.0,921.0 L1016.2,920.9 L1016.3,920.9 L1016.4,920.9 L1016.5,920.8 L1016.6,920.8 L1016.7,920.8 L1016.8,920.8 L1017.0,920.7 L1017.1,920.7 L1017.2,920.7 L1017.3,920.7 L1017.4,920.7 L1017.5,920.6 L1017.6,920.6 L1017.7,920.6 L1017.9,920.6 L1018.0,920.6 L1018.1,920.6 L1018.2,920.6 L1018.3,920.5 L1018.4,920.5 L1018.5,920.5 L1018.6,920.5 L1018.7,920.5 L1018.9,920.5 L1019.0,920.5 L1019.1,920.5 L1019.2,920.5 L1019.3,920.5 L1019.4,920.5 L1019.5,920.5 L1019.6,920.5 L1019.7,920.5 L1019.9,920.5 L1020.0,920.5 L1020.1,920.5 L1020.2,920.5 L1020.3,920.5 L1020.4,920.6 L1020.6,920.6 L1020.7,920.6 L1020.8,920.6 L1020.9,920.6 L1021.0,920.6 L1021.2,920.6 L1021.3,920.7 L1021.4,920.7 L1021.5,920.7 L1021.7,920.7 L1021.8,920.7 L1021.9,920.8 L1022.0,920.8 L1022.2,920.8 L1022.3,920.8 L1022.4,920.9 L1022.6,920.9 L1022.7,920.9 L1022.8,921.0 L1022.9,921.0 L1023.1,921.0 L1023.2,921.0 L1023.3,921.1 L1023.5,921.1 L1023.6,921.2 L1023.7,921.2 L1023.9,921.2 L1024.0,921.3 L1024.2,921.3 L1024.3,921.3 L1024.4,921.4 L1024.6,921.4 L1024.7,921.5 L1024.8,921.5 L1025.0,921.5 L1025.1,921.6 L1025.3,921.6 L1025.4,921.7 L1025.5,921.7 L1025.7,921.8 L1025.8,921.8 L1026.0,921.9 L1026.1,921.9 L1026.2,922.0 L1026.4,922.0 L1026.5,922.0 L1026.7,922.1 L1026.8,922.1 L1026.9,922.2 L1027.1,922.3 L1027.2,922.3 L1027.4,922.4 L1027.5,922.4 L1027.7,922.5 L1027.8,922.5 L1028.0,922.6 L1028.1,922.6 L1028.2,922.7 L1028.4,922.7 L1028.5,922.8 L1028.7,922.9 L1028.8,922.9 L1029.0,923.0 L1029.1,923.0 L1029.3,923.1 L1029.4,923.1 L1029.5,923.2 L1029.7,923.3 L1029.8,923.3 L1030.0,923.4 L1030.1,923.4 L1030.3,923.5 L1030.4,923.6 L1030.6,923.6 L1030.7,923.7 L1030.8,923.8 L1031.0,923.8 L1031.1,923.9 L1031.3,923.9 L1031.4,924.0 L1031.6,924.1 L1031.7,924.1 L1031.9,924.2 L1032.0,924.3 L1032.1,924.3 L1032.3,924.4 L1032.4,924.5 L1032.6,924.5 L1032.7,924.6 L1032.9,924.7 L1033.0,924.7 L1033.1,924.8 L1033.3,924.9 L1033.4,924.9 L1033.6,925.0 L1033.7,925.0 L1033.8,925.1 L1034.0,925.2 L1034.1,925.2 L1034.3,925.3 L1034.4,925.4 L1034.5,925.4 L1034.7,925.5 L1034.8,925.6 L1035.0,925.6 L1035.1,925.7 L1035.2,925.8 L1035.4,925.8 L1035.5,925.9 L1035.6,926.0 L1035.8,926.0 L1035.9,926.1 L1036.0,926.2 L1036.2,926.2 L1036.3,926.3 L1036.4,926.4 L1036.6,926.4 L1036.7,926.5 L1036.8,926.6 L1037.0,926.6 L1037.1,926.7 L1037.2,926.7 L1037.4,926.8 L1037.5,926.9 L1037.6,926.9 L1037.7,927.0 L1037.9,927.1 L1038.0,927.1 L1038.1,927.2 L1038.2,927.2 L1038.4,927.3 L1038.5,927.4 L1038.6,927.4 L1038.7,927.5 L1038.8,927.6 L1039.0,927.6 L1039.1,927.7 L1039.2,927.7 L1039.3,927.8 L1039.4,927.8 L1039.6,927.9 L1039.7,928.0 L1039.8,928.0 L1039.9,928.1 L1040.0,928.1 L1040.1,928.2 L1040.2,928.2 L1040.3,928.3 L1040.4,928.4 L1040.6,928.4 L1040.7,928.5 L1040.8,928.5 L1040.9,928.6 L1041.0,928.6 L1041.1,928.7 L1041.2,928.7 L1041.3,928.8 L1041.4,928.8 L1041.5,928.9 L1041.6,928.9 L1041.7,929.0 L1041.8,929.0 L1041.9,929.0 L1042.0,929.1 L1042.1,929.1 L1042.1,929.2 L1042.2,929.2 L1042.3,929.3 L1042.4,929.3 L1042.5,929.3 L1042.6,929.4 L1042.7,929.4 L1042.8,929.5 L1042.8,929.5 L1042.9,929.5 L1043.0,929.6 L1043.1,929.6 L1043.2,929.6 L1043.2,929.7 L1043.3,929.7 L1043.4,929.7 L1043.5,929.8 L1043.5,929.8 L1043.6,929.8 L1043.7,929.9 L1043.7,929.9 L1043.8,929.9 L1043.9,930.0 L1043.9,930.0 L1044.0,930.0" fill="none" stroke="#000" stroke-width="11.2"/>
<path d="M1000.0,930.0 L1000.0,930.0 L1000.1,930.0 L1000.1,929.9 L1000.2,929.9 L1000.3,929.9 L1000.3,929.8 L1000.4,929.8 L1000.4,929.8 L1000.5,929.7 L1000.5,929.7 L1000.6,929.7 L1000.6,929.6 L1000.7,929.6 L1000.8,929.6 L1000.8,929.5 L1000.9,929.5 L1000.9,929.5 L1001.0,929.4 L1001.1,929.4 L1001.1,929.3 L1001.2,929.3 L1001.3,929.3 L1001.3,929.2 L1001.4,929.2 L1001.5,929.1 L1001.5,929.1 L1001.6,929.0 L1001.7,929.0 L1001.7,929.0 L1001.8,928.9 L1001.9,928.9 L1001.9,928.8 L1002.0,928.8 L1002.1,928.7 L1002.2,928.7 L1002.2,928.6 L1002.3,928.6 L1002.4,928.5 L1002.5,928.5 L1002.5,928.4 L1002.6,928.4 L1002.7,928.3 L1002.8,928.2 L1002.9,928.2 L1002.9,928.1 L1003.0,928.1 L1003.1,928.0 L1003.2,928.0 L1003.3,927.9 L1003.3,927.8 L1003.4,927.8 L1003.5,927.7 L1003.6,927.7 L1003.7,927.6 L1003.8,927.6 L1003.9,927.5 L1003.9,927.4 L1004.0,927.4 L1004.1,927.3 L1004.2,927.2 L1004.3,927.2 L1004.4,927.1 L1004.5,927.1 L1004.6,927.0 L1004.7,926.9 L1004.7,926.9 L1004.8,926.8 L1004.9,926.7 L1005.0,926.7 L1005.1,926.6 L1005.2,926.6 L1005.3,926.5 L1005.4,926.4 L1005.5,926.4 L1005.6,926.3 L1005.7,926.2 L1005.8,926.2 L1005.9,926.1 L1006.0,926.0 L1006.1,926.0 L1006.2,925.9 L1006.3,925.8 L1006.4,925.8 L1006.5,925.7 L1006.6,925.6 L1006.7,925.6 L1006.8,925.5 L1006.9,925.4 L1007.0,925.4 L1007.1,925.3 L1007.2,925.2 L1007.3,925.2 L1007.4,925.1 L1007.5,925.0 L1007.6,925.0 L1007.7,924.9 L1007.8,924.9 L1007.9,924.8 L1008.0,924.7 L1008.1,924.7 L1008.2,924.6 L1008.3,924.5 L1008.4,924.5 L1008.5,924.4 L1008.6,924.3 L1008.7,924.3 L1008.8,924.2 L1009.0,924.1 L1009.1,924.1 L1009.2,924.0 L1009.3,923.9 L1009.4,923.9 L1009.5,923.8 L1009.6,923.8 L1009.7,923.7 L1009.8,923.6 L1009.9,923.6 L1010.0,923.5 L1010.2,923.4 L1010.3,923.4 L1010.4,923.3 L1010.5,923.3 L1010.6,923.2 L1010.7,923.1 L1010.8,923.1 L1010.9,923.0 L1011.0,923.0 L1011.2,922.9 L1011.3,922.9 L1011.4,922.8 L1011.5,922.7 L1011.6,922.7 L1011.7,922.6 L1011.8,922.6 L1011.9,922.5 L1012.1,922.5 L1012.2,922.4 L1012.3,922.4 L1012.4,922.3 L1012.5,922.3 L1012.6,922.2 L1012.7,922.1 L1012.8,922.1 L1013.0,922.0 L1013.1,922.0 L1013.2,922.0 L1013.3,921.9 L1013.4,921.9 L1013.5,921.8 L1013.6,921.8 L1013.8,921.7 L1013.9,921.7 L1014.0,921.6 L1014.1,921.6 L1014.2,921.5 L1014.3,921.5 L1014.4,921.5 L1014.6,921.4 L1014.7,921.4 L1014.8,921.3 L1014.9,921.3 L1015.0,921.3 L1015.1,921.2 L1015.2,921.2 L1015.4,921.2 L1015.5,921.1 L1015.6,921.1 L1015.7,921.0 L1015.8,921.0 L1015.9,921.0 L1016.0,921.0 L1016.2,920.9 L1016.3,920.9 L1016.4,920.9 L1016.5,920.8 L1016.6,920.8 L1016.7,920.8 L1016.8,920.8 L1017.0,920.7 L1017.1,920.7 L1017.2,920.7 L1017.3,920.7 L1017.4,920.7 L1017.5,920.6 L1017.6,920.6 L1017.7,920.6 L1017.9,920.6 L1018.0,920.6 L1018.1,920.6 L1018.2,920.6 L1018.3,920.5 L1018.4,920.5 L1018.5,920.5 L1018.6,920.5 L1018.7,920.5 L1018.9,920.5 L1019.0,920.5 L1019.1,920.5 L1019.2,920.5 L1019.3,920.5 L1019.4,920.5 L1019.5,920.5 L1019.6,920.5 L1019.7,920.5 L1019.9,920.5 L1020.0,920.5 L1020.1,920.5 L1020.2,920.5 L1020.3,920.5 L1020.4,920.6 L1020.6,920.6 L1020.7,920.6 L1020.8,920.6 L1020.9,920.6 L1021.0,920.6 L1021.2,920.6 L1021.3,920.7 L1021.4,920.7 L1021.5,920.7 L1021.7,920.7 L1021.8,920.7 L1021.9,920.8 L1022.0,920.8 L1022.2,920.8 L1022.3,920.8 L1022.4,920.9 L1022.6,920.9 L1022.7,920.9 L1022.8,921.0 L1022.9,921.0 L1023.1,921.0 L1023.2,921.0 L1023.3,921.1 L1023.5,921.1 L1023.6,921.2 L1023.7,921.2 L1023.9,921.2 L1024.0,921.3 L1024.2,921.3 L1024.3,921.3 L1024.4,921.4 L1024.6,921.4 L1024.7,921.5 L1024.8,921.5 L1025.0,921.5 L1025.1,921.6 L1025.3,921.6 L1025.4,921.7 L1025.5,921.7 L1025.7,921.8 L1025.8,921.8 L1026.0,921.9 L1026.1,921.9 L1026.2,922.0 L1026.4,922.0 L1026.5,922.0 L1026.7,922.1 L1026.8,922.1 L1026.9,922.2 L1027.1,922.3 L1027.2,922.3 L1027.4,922.4 L1027.5,922.4 L1027.7,922.5 L1027.8,922.5 L1028.0,922.6 L1028.1,922.6 L1028.2,922.7 L1028.4,922.7 L1028.5,922.8 L1028.7,922.9 L1028.8,922.9 L1029.0,923.0 L1029.1,923.0 L1029.3,923.1 L1029.4,923.1 L1029.5,923.2 L1029.7,923.3 L1029.8,923.3 L1030.0,923.4 L1030.1,923.4 L1030.3,923.5 L1030.4,923.6 L1030.6,923.6 L1030.7,923.7 L1030.8,923.8 L1031.0,923.8 L1031.1,923.9 L1031.3,923.9 L1031.4,924.0 L1031.6,924.1 L1031.7,924.1 L1031.9,924.2 L1032.0,924.3 L1032.1,924.3 L1032.3,924.4 L1032.4,924.5 L1032.6,924.5 L1032.7,924.6 L1032.9,924.7 L1033.0,924.7 L1033.1,924.8 L1033.3,924.9 L1033.4,924.9 L1033.6,925.0 L1033.7,925.0 L1033.8,925.1 L1034.0,925.2 L1034.1,925.2 L1034.3,925.3 L1034.4,925.4 L1034.5,925.4 L1034.7,925.5 L1034.8,925.6 L1035.0,925.6 L1035.1,925.7 L1035.2,925.8 L1035.4,925.8 L1035.5,925.9 L1035.6,926.0 L1035.8,926.0 L1035.9,926.1 L1036.0,926.2 L1036.2,926.2 L1036.3,926.3 L1036.4,926.4 L1036.6,926.4 L1036.7,926.5 L1036.8,926.6 L1037.0,926.6 L1037.1,926.7 L1037.2,926.7 L1037.4,926.8 L1037.5,926.9 L1037.6,926.9 L1037.7,927.0 L1037.9,927.1 L1038.0,927.1 L1038.1,927.2 L1038.2,927.2 L1038.4,927.3 L1038.5,927.4 L1038.6,927.4 L1038.7,927.5 L1038.8,927.6 L1039.0,927.6 L1039.1,927.7 L1039.2,927.7 L1039.3,927.8 L1039.4,927.8 L1039.6,927.9 L1039.7,928.0 L1039.8,928.0 L1039.9,928.1 L1040.0,928.1 L1040.1,928.2 L1040.2,928.2 L1040.3,928.3 L1040.4,928.4 L1040.6,928.4 L1040.7,928.5 L1040.8,928.5 L1040.9,928.6 L1041.0,928.6 L1041.1,928.7 L1041.2,928.7 L1041.3,928.8 L1041.4,928.8 L1041.5,928.9 L1041.6,928.9 L1041.7,929.0 L1041.8,929.0 L1041.9,929.0 L1042.0,929.1 L1042.1,929.1 L1042.1,929.2 L1042.2,929.2 L1042.3,929.3 L1042.4,929.3 L1042.5,929.3 L1042.6,929.4 L1042.7,929.4 L1042.8,929.5 L1042.8,929.5 L1042.9,929.5 L1043.0,929.6 L1043.1,929.6 L1043.2,929.6 L1043.2,929.7 L1043.3,929.7 L1043.4,929.7 L1043.5,929.8 L1043.5,929.8 L1043.6,929.8 L1043.7,929.9 L1043.7,929.9 L1043.8,929.9 L1043.9,930.0 L1043.9,930.0 L1044.0,930.0" fill="none" stroke="#fff" stroke-width="8"/>
<ellipse class="p" cx="1045.5" cy="929.9" rx="4.5" ry="5.5" transform="rotate(-20 1045.5 929.9)"/><ellipse class="n" cx="1045.5" cy="929.9" rx="2" ry="2.6" stroke-width="1.2"/>
<path d="M847.3,1045.0 L847.5,1044.9 L847.7,1044.8 L848.0,1044.6 L848.2,1044.5 L848.5,1044.3 L848.7,1044.2 L849.0,1044.0 L849.3,1043.8 L849.6,1043.7 L849.9,1043.5 L850.3,1043.3 L850.6,1043.1 L850.9,1042.9 L851.3,1042.7 L851.7,1042.5 L852.0,1042.3 L852.4,1042.1 L852.8,1041.8 L853.2,1041.6 L853.6,1041.4 L854.0,1041.1 L854.4,1040.9 L854.9,1040.7 L855.3,1040.4 L855.7,1040.2 L856.2,1039.9 L856.6,1039.7 L857.0,1039.4 L857.5,1039.1 L857.9,1038.9 L858.4,1038.6 L858.9,1038.4 L859.3,1038.1 L859.8,1037.8 L860.2,1037.6 L860.7,1037.3 L861.2,1037.0 L861.6,1036.8 L862.1,1036.5 L862.6,1036.2 L863.0,1036.0 L863.5,1035.7 L863.9,1035.4 L864.4,1035.2 L864.9,1034.9 L865.3,1034.7 L865.8,1034.4 L866.2,1034.2 L866.6,1033.9 L867.1,1033.7 L867.5,1033.4 L867.9,1033.2 L868.4,1032.9 L868.8,1032.7 L869.2,1032.5 L869.6,1032.2 L870.0,1032.0 L870.4,1031.8 L870.8,1031.6 L871.2,1031.3 L871.6,1031.1 L871.9,1030.9 L872.3,1030.7 L872.7,1030.5 L873.1,1030.3 L873.5,1030.1 L873.9,1029.9 L874.2,1029.8 L874.6,1029.6 L875.0,1029.4 L875.4,1029.2 L875.7,1029.0 L876.1,1028.8 L876.5,1028.6 L876.9,1028.5 L877.2,1028.3 L877.6,1028.1 L878.0,1027.9 L878.4,1027.7 L878.7,1027.5 L879.1,1027.4 L879.5,1027.2 L879.9,1027.0 L880.2,1026.8 L880.6,1026.6 L881.0,1026.4 L881.4,1026.2 L881.8,1026.0 L882.1,1025.8 L882.5,1025.7 L882.9,1025.5 L883.3,1025.2 L883.7,1025.0 L884.0,1024.8 L884.4,1024.6 L884.8,1024.4 L885.2,1024.2 L885.6,1023.9 L886.0,1023.7 L886.4,1023.5 L886.8,1023.2 L887.2,1023.0 L887.6,1022.8 L888.0,1022.5 L888.4,1022.2 L888.8,1022.0 L889.2,1021.7 L889.6,1021.4 L890.1,1021.1 L890.5,1020.8 L890.9,1020.5 L891.3,1020.2 L891.8,1019.9 L892.2,1019.6 L892.6,1019.3 L893.1,1018.9 L893.5,1018.6 L894.0,1018.3 L894.4,1017.9 L894.9,1017.5 L895.4,1017.2 L895.8,1016.8 L896.3,1016.4 L896.8,1016.1 L897.2,1015.7 L897.7,1015.3 L898.2,1014.9 L898.7,1014.5 L899.2,1014.1 L899.7,1013.7 L900.1,1013.3 L900.6,1012.8 L901.1,1012.4 L901.6,1012.0 L902.1,1011.6 L902.6,1011.1 L903.1,1010.7 L903.6,1010.3 L904.1,1009.8 L904.6,1009.4 L905.1,1008.9 L905.6,1008.5 L906.1,1008.0 L906.6,1007.6 L907.1,1007.1 L907.6,1006.7 L908.1,1006.2 L908.7,1005.7 L909.2,1005.3 L909.6,1004.8 L910.1,1004.3 L910.6,1003.9 L911.1,1003.4 L911.6,1002.9 L912.1,1002.5 L912.6,1002.0 L913.1,1001.5 L913.6,1001.1 L914.1,1000.6 L914.5,1000.1 L915.0,999.7 L915.5,999.2 L916.0,998.7 L916.4,998.2 L916.9,997.8 L917.4,997.3 L917.8,996.8 L918.3,996.4 L918.7,995.9 L919.2,995.5 L919.6,995.0 L920.0,994.5 L920.5,994.1 L920.9,993.6 L921.3,993.1 L921.7,992.7 L922.2,992.2 L922.6,991.7 L923.0,991.3 L923.4,990.8 L923.8,990.3 L924.2,989.8 L924.6,989.3 L925.0,988.8 L925.4,988.4 L925.8,987.9 L926.2,987.4 L926.6,986.9 L927.0,986.4 L927.4,985.9 L927.8,985.4 L928.2,984.9 L928.6,984.4 L929.0,983.9 L929.4,983.4 L929.8,982.9 L930.1,982.4 L930.5,981.9 L930.9,981.4 L931.3,980.9 L931.7,980.4 L932.1,979.9 L932.4,979.4 L932.8,978.9 L933.2,978.4 L933.6,977.9 L934.0,977.4 L934.3,976.9 L934.7,976.4 L935.1,976.0 L935.5,975.5 L935.8,975.0 L936.2,974.5 L936.6,974.0 L937.0,973.5 L937.4,973.0 L937.7,972.5 L938.1,972.0 L938.5,971.6 L938.9,971.1 L939.3,970.6 L939.7,970.1 L940.0,969.6 L940.4,969.2 L940.8,968.7 L941.2,968.2 L941.6,967.8 L942.0,967.3 L942.4,966.8 L942.8,966.4 L943.2,965.9 L943.6,965.4 L944.0,965.0 L944.4,964.5 L944.8,964.0 L945.2,963.5 L945.6,963.0 L946.0,962.6 L946.4,962.1 L946.9,961.6 L947.3,961.1 L947.7,960.6 L948.1,960.2 L948.5,959.7 L948.9,959.2 L949.3,958.7 L949.8,958.2 L950.2,957.7 L950.6,957.3 L951.0,956.8 L951.4,956.3 L951.8,955.8 L952.2,955.4 L952.7,954.9 L953.1,954.4 L953.5,953.9 L953.9,953.5 L954.3,953.0 L954.7,952.6 L955.1,952.1 L955.5,951.7 L955.9,951.2 L956.3,950.8 L956.7,950.3 L957.1,949.9 L957.5,949.4 L957.9,949.0 L958.3,948.6 L958.7,948.2 L959.1,947.8 L959.5,947.4 L959.8,946.9 L960.2,946.6 L960.6,946.2 L961.0,945.8 L961.3,945.4 L961.7,945.0 L962.1,944.7 L962.4,944.3 L962.8,943.9 L963.1,943.6 L963.5,943.3 L963.8,942.9 L964.2,942.6 L964.5,942.3 L964.8,942.0 L965.2,941.7 L965.5,941.4 L965.8,941.1 L966.1,940.8 L966.4,940.6 L966.7,940.3 L967.0,940.0 L967.3,939.8 L967.6,939.5 L967.8,939.3 L968.1,939.1 L968.4,938.8 L968.7,938.6 L968.9,938.4 L969.2,938.2 L969.5,938.0 L969.7,937.8 L970.0,937.6 L970.2,937.4 L970.5,937.2 L970.7,937.0 L971.0,936.8 L971.2,936.7 L971.5,936.5 L971.7,936.3 L972.0,936.1 L972.2,936.0 L972.5,935.8 L972.7,935.7 L973.0,935.5 L973.2,935.4 L973.4,935.2 L973.7,935.1 L973.9,934.9 L974.2,934.8 L974.4,934.6 L974.7,934.5 L974.9,934.4 L975.2,934.2 L975.4,934.1 L975.7,934.0 L976.0,933.8 L976.2,933.7 L976.5,933.6 L976.8,933.4 L977.0,933.3 L977.3,933.2 L977.6,933.0 L977.9,932.9 L978.2,932.8 L978.5,932.7 L978.8,932.5 L979.1,932.4 L979.4,932.3 L979.7,932.1 L980.0,932.0 L980.3,931.9 L980.7,931.7 L981.0,931.6 L981.4,931.5 L981.7,931.4 L982.1,931.2 L982.5,931.1 L982.8,931.0 L983.2,930.9 L983.6,930.7 L984.0,930.6 L984.4,930.5 L984.8,930.4 L985.3,930.3 L985.7,930.2 L986.1,930.1 L986.5,930.0 L986.9,929.9 L987.4,929.8 L987.8,929.7 L988.2,929.6 L988.7,929.5 L989.1,929.4 L989.5,929.3 L990.0,929.2 L990.4,929.1 L990.8,929.0 L991.3,928.9 L991.7,928.8 L992.1,928.7 L992.5,928.6 L992.9,928.6 L993.4,928.5 L993.8,928.4 L994.2,928.3 L994.6,928.2 L995.0,928.2 L995.4,928.1 L995.7,928.0 L996.1,928.0 L996.5,927.9 L996.8,927.8 L997.2,927.8 L997.5,927.7 L997.9,927.6 L998.2,927.6 L998.5,927.5 L998.8,927.5 L999.1,927.4 L999.4,927.3 L999.6,927.3 L999.9,927.2 L1000.2,927.2 L1000.4,927.1 L1000.6,927.1 L1000.8,927.0 L1001.0,927.0" fill="none" stroke="#000" stroke-width="17.2" stroke-linecap="butt"/>
<path d="M847.3,1045.0 L847.5,1044.9 L847.7,1044.8 L848.0,1044.6 L848.2,1044.5 L848.5,1044.3 L848.7,1044.2 L849.0,1044.0 L849.3,1043.8 L849.6,1043.7 L849.9,1043.5 L850.3,1043.3 L850.6,1043.1 L850.9,1042.9 L851.3,1042.7 L851.7,1042.5 L852.0,1042.3 L852.4,1042.1 L852.8,1041.8 L853.2,1041.6 L853.6,1041.4 L854.0,1041.1 L854.4,1040.9 L854.9,1040.7 L855.3,1040.4 L855.7,1040.2 L856.2,1039.9 L856.6,1039.7 L857.0,1039.4 L857.5,1039.1 L857.9,1038.9 L858.4,1038.6 L858.9,1038.4 L859.3,1038.1 L859.8,1037.8 L860.2,1037.6 L860.7,1037.3 L861.2,1037.0 L861.6,1036.8 L862.1,1036.5 L862.6,1036.2 L863.0,1036.0 L863.5,1035.7 L863.9,1035.4 L864.4,1035.2 L864.9,1034.9 L865.3,1034.7 L865.8,1034.4 L866.2,1034.2 L866.6,1033.9 L867.1,1033.7 L867.5,1033.4 L867.9,1033.2 L868.4,1032.9 L868.8,1032.7 L869.2,1032.5 L869.6,1032.2 L870.0,1032.0 L870.4,1031.8 L870.8,1031.6 L871.2,1031.3 L871.6,1031.1 L871.9,1030.9 L872.3,1030.7 L872.7,1030.5 L873.1,1030.3 L873.5,1030.1 L873.9,1029.9 L874.2,1029.8 L874.6,1029.6 L875.0,1029.4 L875.4,1029.2 L875.7,1029.0 L876.1,1028.8 L876.5,1028.6 L876.9,1028.5 L877.2,1028.3 L877.6,1028.1 L878.0,1027.9 L878.4,1027.7 L878.7,1027.5 L879.1,1027.4 L879.5,1027.2 L879.9,1027.0 L880.2,1026.8 L880.6,1026.6 L881.0,1026.4 L881.4,1026.2 L881.8,1026.0 L882.1,1025.8 L882.5,1025.7 L882.9,1025.5 L883.3,1025.2 L883.7,1025.0 L884.0,1024.8 L884.4,1024.6 L884.8,1024.4 L885.2,1024.2 L885.6,1023.9 L886.0,1023.7 L886.4,1023.5 L886.8,1023.2 L887.2,1023.0 L887.6,1022.8 L888.0,1022.5 L888.4,1022.2 L888.8,1022.0 L889.2,1021.7 L889.6,1021.4 L890.1,1021.1 L890.5,1020.8 L890.9,1020.5 L891.3,1020.2 L891.8,1019.9 L892.2,1019.6 L892.6,1019.3 L893.1,1018.9 L893.5,1018.6 L894.0,1018.3 L894.4,1017.9 L894.9,1017.5 L895.4,1017.2 L895.8,1016.8 L896.3,1016.4 L896.8,1016.1 L897.2,1015.7 L897.7,1015.3 L898.2,1014.9 L898.7,1014.5 L899.2,1014.1 L899.7,1013.7 L900.1,1013.3 L900.6,1012.8 L901.1,1012.4 L901.6,1012.0 L902.1,1011.6 L902.6,1011.1 L903.1,1010.7 L903.6,1010.3 L904.1,1009.8 L904.6,1009.4 L905.1,1008.9 L905.6,1008.5 L906.1,1008.0 L906.6,1007.6 L907.1,1007.1 L907.6,1006.7 L908.1,1006.2 L908.7,1005.7 L909.2,1005.3 L909.6,1004.8 L910.1,1004.3 L910.6,1003.9 L911.1,1003.4 L911.6,1002.9 L912.1,1002.5 L912.6,1002.0 L913.1,1001.5 L913.6,1001.1 L914.1,1000.6 L914.5,1000.1 L915.0,999.7 L915.5,999.2 L916.0,998.7 L916.4,998.2 L916.9,997.8 L917.4,997.3 L917.8,996.8 L918.3,996.4 L918.7,995.9 L919.2,995.5 L919.6,995.0 L920.0,994.5 L920.5,994.1 L920.9,993.6 L921.3,993.1 L921.7,992.7 L922.2,992.2 L922.6,991.7 L923.0,991.3 L923.4,990.8 L923.8,990.3 L924.2,989.8 L924.6,989.3 L925.0,988.8 L925.4,988.4 L925.8,987.9 L926.2,987.4 L926.6,986.9 L927.0,986.4 L927.4,985.9 L927.8,985.4 L928.2,984.9 L928.6,984.4 L929.0,983.9 L929.4,983.4 L929.8,982.9 L930.1,982.4 L930.5,981.9 L930.9,981.4 L931.3,980.9 L931.7,980.4 L932.1,979.9 L932.4,979.4 L932.8,978.9 L933.2,978.4 L933.6,977.9 L934.0,977.4 L934.3,976.9 L934.7,976.4 L935.1,976.0 L935.5,975.5 L935.8,975.0 L936.2,974.5 L936.6,974.0 L937.0,973.5 L937.4,973.0 L937.7,972.5 L938.1,972.0 L938.5,971.6 L938.9,971.1 L939.3,970.6 L939.7,970.1 L940.0,969.6 L940.4,969.2 L940.8,968.7 L941.2,968.2 L941.6,967.8 L942.0,967.3 L942.4,966.8 L942.8,966.4 L943.2,965.9 L943.6,965.4 L944.0,965.0 L944.4,964.5 L944.8,964.0 L945.2,963.5 L945.6,963.0 L946.0,962.6 L946.4,962.1 L946.9,961.6 L947.3,961.1 L947.7,960.6 L948.1,960.2 L948.5,959.7 L948.9,959.2 L949.3,958.7 L949.8,958.2 L950.2,957.7 L950.6,957.3 L951.0,956.8 L951.4,956.3 L951.8,955.8 L952.2,955.4 L952.7,954.9 L953.1,954.4 L953.5,953.9 L953.9,953.5 L954.3,953.0 L954.7,952.6 L955.1,952.1 L955.5,951.7 L955.9,951.2 L956.3,950.8 L956.7,950.3 L957.1,949.9 L957.5,949.4 L957.9,949.0 L958.3,948.6 L958.7,948.2 L959.1,947.8 L959.5,947.4 L959.8,946.9 L960.2,946.6 L960.6,946.2 L961.0,945.8 L961.3,945.4 L961.7,945.0 L962.1,944.7 L962.4,944.3 L962.8,943.9 L963.1,943.6 L963.5,943.3 L963.8,942.9 L964.2,942.6 L964.5,942.3 L964.8,942.0 L965.2,941.7 L965.5,941.4 L965.8,941.1 L966.1,940.8 L966.4,940.6 L966.7,940.3 L967.0,940.0 L967.3,939.8 L967.6,939.5 L967.8,939.3 L968.1,939.1 L968.4,938.8 L968.7,938.6 L968.9,938.4 L969.2,938.2 L969.5,938.0 L969.7,937.8 L970.0,937.6 L970.2,937.4 L970.5,937.2 L970.7,937.0 L971.0,936.8 L971.2,936.7 L971.5,936.5 L971.7,936.3 L972.0,936.1 L972.2,936.0 L972.5,935.8 L972.7,935.7 L973.0,935.5 L973.2,935.4 L973.4,935.2 L973.7,935.1 L973.9,934.9 L974.2,934.8 L974.4,934.6 L974.7,934.5 L974.9,934.4 L975.2,934.2 L975.4,934.1 L975.7,934.0 L976.0,933.8 L976.2,933.7 L976.5,933.6 L976.8,933.4 L977.0,933.3 L977.3,933.2 L977.6,933.0 L977.9,932.9 L978.2,932.8 L978.5,932.7 L978.8,932.5 L979.1,932.4 L979.4,932.3 L979.7,932.1 L980.0,932.0 L980.3,931.9 L980.7,931.7 L981.0,931.6 L981.4,931.5 L981.7,931.4 L982.1,931.2 L982.5,931.1 L982.8,931.0 L983.2,930.9 L983.6,930.7 L984.0,930.6 L984.4,930.5 L984.8,930.4 L985.3,930.3 L985.7,930.2 L986.1,930.1 L986.5,930.0 L986.9,929.9 L987.4,929.8 L987.8,929.7 L988.2,929.6 L988.7,929.5 L989.1,929.4 L989.5,929.3 L990.0,929.2 L990.4,929.1 L990.8,929.0 L991.3,928.9 L991.7,928.8 L992.1,928.7 L992.5,928.6 L992.9,928.6 L993.4,928.5 L993.8,928.4 L994.2,928.3 L994.6,928.2 L995.0,928.2 L995.4,928.1 L995.7,928.0 L996.1,928.0 L996.5,927.9 L996.8,927.8 L997.2,927.8 L997.5,927.7 L997.9,927.6 L998.2,927.6 L998.5,927.5 L998.8,927.5 L999.1,927.4 L999.4,927.3 L999.6,927.3 L999.9,927.2 L1000.2,927.2 L1000.4,927.1 L1000.6,927.1 L1000.8,927.0 L1001.0,927.0" fill="none" stroke="#fff" stroke-width="14" stroke-linecap="butt"/>
<path class="n" stroke-width="1.3" d="M856.3,1048.8 Q856.9,1039.5 848.5,1035.3 M864.6,1044.1 Q865.2,1034.7 856.8,1030.5 M872.6,1039.5 Q873.3,1030.1 864.9,1025.9 M880.7,1035.3 Q881.9,1026.0 873.8,1021.3 M889.5,1030.7 Q890.1,1021.3 881.7,1017.2 M898.3,1024.8 Q897.7,1015.4 888.8,1012.4 M906.2,1018.3 Q905.1,1009.0 896.1,1006.5 M913.4,1011.9 Q912.0,1002.7 902.9,1000.5 M920.5,1005.2 Q918.7,996.0 909.5,994.1 M927.6,997.9 Q925.2,988.8 915.9,987.5 M934.0,990.2 Q931.1,981.3 921.7,980.6 M939.8,982.7 Q936.7,973.8 927.4,973.2 M945.3,975.5 Q942.6,966.5 933.2,965.7 M951.6,968.1 Q949.0,959.1 939.7,958.0 M957.7,961.0 Q955.3,951.9 945.9,950.7 M963.6,954.3 Q961.5,945.2 952.2,943.7 M969.8,948.0 Q968.3,938.7 959.2,936.6 M976.3,942.6 Q976.3,933.2 967.6,929.7 M983.2,939.1 Q985.2,930.0 977.5,924.6 M991.2,936.9 Q994.6,928.2 987.9,921.6 M1000.3,935.1 Q1003.9,926.5 997.3,919.8"/>
<path class="n" stroke-width="1.5" d="M996,919 L1003,934"/>
<path class="p" d="M831,1049 L846,1039 L851,1050 L836,1060 Z"/>
<path class="p" d="M845,1037 L851,1035 L855,1049 L850,1052 Z" stroke-width="1.4"/>
<ellipse class="p" cx="833.6" cy="1054.5" rx="4" ry="6.5" transform="rotate(-30 833.6 1054.5)"/><ellipse class="n" cx="833.6" cy="1054.5" rx="1.8" ry="3" transform="rotate(-30 833.6 1054.5)" stroke-width="1.3"/>
</g>
<!-- misc -->
<g id="misc">
<!-- FWD arrow -->
<path class="p" d="M244.7,1260.6 L265.6,1227.2 L271,1230.3 L271.4,1234.3 L302.6,1216.9 L308.4,1219.1 L308.4,1245.4 L271.4,1265 L271.4,1275.7 Z" stroke-width="2"/>
<path class="n" stroke-width="1.3" d="M250,1262.3 L269.2,1233 M273.2,1239.2 L306.1,1220.9 M265.6,1227.2 L269.2,1233 L271.4,1234.3 M302.6,1216.9 L306.1,1220.9 L308.4,1219.1"/>
<g transform="translate(269.5,1263.5) skewY(-29) scale(0.93,1)"><path d="M1.6,0 V-14.8 H9.5 M1.6,-8 H8 M11.5,-14.8 L14.8,0 L18.8,-10 L22.8,0 L26.2,-14.8 M29.6,-14.8 V0 H32 Q37.2,-0.8 37.2,-7.4 Q37.2,-14 32,-14.8 Z" fill="none" stroke="#000" stroke-width="2.7" stroke-linejoin="miter"/></g>
<!-- part number -->
<text transform="translate(210.00,1304.2) scale(1.26,1)" font-family="Liberation Sans" font-size="17.5" fill="#000" stroke="#000" stroke-width="0.3">6</text>
<text transform="translate(222.26,1304.2) scale(1.26,1)" font-family="Liberation Sans" font-size="17.5" fill="#000" stroke="#000" stroke-width="0.3">9</text>
<text transform="translate(234.52,1304.2) scale(1.26,1)" font-family="Liberation Sans" font-size="17.5" fill="#000" stroke="#000" stroke-width="0.3">W</text>
<path d="M260.53,1291.80 h2.5 v12.4 h-2.5 v-9.3 l-3.5,1.8 v-1.6 z" fill="#000"/>
<path d="M272.79,1291.80 h2.5 v12.4 h-2.5 v-9.3 l-3.5,1.8 v-1.6 z" fill="#000"/>
<text transform="translate(279.85,1304.2) scale(1.26,1)" font-family="Liberation Sans" font-size="17.5" fill="#000" stroke="#000" stroke-width="0.3">0</text>
<text transform="translate(292.11,1304.2) scale(1.26,1)" font-family="Liberation Sans" font-size="17.5" fill="#000" stroke="#000" stroke-width="0.3">0</text>
<text transform="translate(304.37,1304.2) scale(1.26,1)" font-family="Liberation Sans" font-size="17.5" fill="#000" stroke="#000" stroke-width="0.3">-</text>
<text transform="translate(311.72,1304.2) scale(1.26,1)" font-family="Liberation Sans" font-size="17.5" fill="#000" stroke="#000" stroke-width="0.3">2</text>
<text transform="translate(323.98,1304.2) scale(1.26,1)" font-family="Liberation Sans" font-size="17.5" fill="#000" stroke="#000" stroke-width="0.3">0</text>
<text transform="translate(336.24,1304.2) scale(1.26,1)" font-family="Liberation Sans" font-size="17.5" fill="#000" stroke="#000" stroke-width="0.3">6</text>
<text transform="translate(348.50,1304.2) scale(1.26,1)" font-family="Liberation Sans" font-size="17.5" fill="#000" stroke="#000" stroke-width="0.3">0</text>
</g>
<!-- labels -->
<g id="labels">
<text transform="translate(392.85,221.70) scale(1.25,1)">2</text>
<text transform="translate(407.10,221.70) scale(1.25,1)">6</text>
<text transform="translate(764.77,135.20) scale(1.25,1)">4</text>
<path d="M784.92,120.60 h2.9 v14.6 h-2.9 v-10.9 l-4.1,2.1 v-1.9 z" fill="#000"/>
<text transform="translate(585.55,190.80) scale(1.25,1)">4</text>
<text transform="translate(599.80,190.80) scale(1.25,1)">3</text>
<text transform="translate(585.55,223.30) scale(1.25,1)">4</text>
<text transform="translate(599.80,223.30) scale(1.25,1)">4</text>
<text transform="translate(733.05,223.00) scale(1.25,1)">4</text>
<text transform="translate(747.30,223.00) scale(1.25,1)">3</text>
<text transform="translate(733.05,251.30) scale(1.25,1)">4</text>
<text transform="translate(747.30,251.30) scale(1.25,1)">4</text>
<text transform="translate(653.05,320.80) scale(1.25,1)">4</text>
<text transform="translate(667.30,320.80) scale(1.25,1)">2</text>
<path d="M773.75,305.00 h2.9 v14.6 h-2.9 v-10.9 l-4.1,2.1 v-1.9 z" fill="#000"/>
<text transform="translate(782.10,319.60) scale(1.25,1)">6</text>
<text transform="translate(1013.05,162.60) scale(1.25,1)">3</text>
<text transform="translate(1027.30,162.60) scale(1.25,1)">8</text>
<text transform="translate(983.05,180.00) scale(1.25,1)">3</text>
<text transform="translate(997.30,180.00) scale(1.25,1)">9</text>
<text transform="translate(961.65,216.00) scale(1.25,1)">4</text>
<text transform="translate(975.90,216.00) scale(1.25,1)">0</text>
<text transform="translate(917.05,241.50) scale(1.25,1)">3</text>
<text transform="translate(931.30,241.50) scale(1.25,1)">4</text>
<text transform="translate(877.55,258.80) scale(1.25,1)">3</text>
<text transform="translate(891.80,258.80) scale(1.25,1)">2</text>
<text transform="translate(841.05,277.60) scale(1.25,1)">3</text>
<text transform="translate(855.30,277.60) scale(1.25,1)">4</text>
<text transform="translate(812.17,298.80) scale(1.25,1)">3</text>
<text transform="translate(360.75,316.30) scale(1.25,1)">2</text>
<text transform="translate(375.00,316.30) scale(1.25,1)">2</text>
<text transform="translate(448.25,443.60) scale(1.25,1)">2</text>
<text transform="translate(462.50,443.60) scale(1.25,1)">8</text>
<text transform="translate(246.58,488.50) scale(1.25,1)">2</text>
<path d="M307.60,492.40 h2.9 v14.6 h-2.9 v-10.9 l-4.1,2.1 v-1.9 z" fill="#000"/>
<path d="M356.95,533.70 h2.9 v14.6 h-2.9 v-10.9 l-4.1,2.1 v-1.9 z" fill="#000"/>
<text transform="translate(365.30,548.30) scale(1.25,1)">3</text>
<path d="M450.25,502.20 h2.9 v14.6 h-2.9 v-10.9 l-4.1,2.1 v-1.9 z" fill="#000"/>
<text transform="translate(458.60,516.80) scale(1.25,1)">8</text>
<path d="M424.95,638.70 h2.9 v14.6 h-2.9 v-10.9 l-4.1,2.1 v-1.9 z" fill="#000"/>
<text transform="translate(433.30,653.30) scale(1.25,1)">9</text>
<path d="M566.15,384.40 h2.9 v14.6 h-2.9 v-10.9 l-4.1,2.1 v-1.9 z" fill="#000"/>
<text transform="translate(574.50,399.00) scale(1.25,1)">5</text>
<text transform="translate(534.95,433.40) scale(1.25,1)">2</text>
<text transform="translate(549.20,433.40) scale(1.25,1)">5</text>
<path d="M498.95,429.40 h2.9 v14.6 h-2.9 v-10.9 l-4.1,2.1 v-1.9 z" fill="#000"/>
<text transform="translate(507.30,444.00) scale(1.25,1)">8</text>
<path d="M657.45,413.40 h2.9 v14.6 h-2.9 v-10.9 l-4.1,2.1 v-1.9 z" fill="#000"/>
<text transform="translate(665.80,428.00) scale(1.25,1)">7</text>
<text transform="translate(989.15,503.20) scale(1.25,1)">3</text>
<text transform="translate(1003.40,503.20) scale(1.25,1)">3</text>
<text transform="translate(814.57,637.00) scale(1.25,1)">2</text>
<path d="M834.72,622.40 h2.9 v14.6 h-2.9 v-10.9 l-4.1,2.1 v-1.9 z" fill="#000"/>
<text transform="translate(499.15,741.80) scale(1.25,1)">2</text>
<text transform="translate(513.40,741.80) scale(1.25,1)">0</text>
<text transform="translate(573.65,785.10) scale(1.25,1)">2</text>
<text transform="translate(587.90,785.10) scale(1.25,1)">7</text>
<text transform="translate(574.27,814.30) scale(1.25,1)">2</text>
<path d="M594.42,799.70 h2.9 v14.6 h-2.9 v-10.9 l-4.1,2.1 v-1.9 z" fill="#000"/>
<text transform="translate(581.67,855.30) scale(1.25,1)">8</text>
<text transform="translate(574.27,890.90) scale(1.25,1)">2</text>
<path d="M594.42,876.30 h2.9 v14.6 h-2.9 v-10.9 l-4.1,2.1 v-1.9 z" fill="#000"/>
<text transform="translate(360.65,846.30) scale(1.25,1)">3</text>
<text transform="translate(374.90,846.30) scale(1.25,1)">0</text>
<text transform="translate(490.35,852.50) scale(1.25,1)">2</text>
<text transform="translate(504.60,852.50) scale(1.25,1)">4</text>
<text transform="translate(593.48,941.80) scale(1.25,1)">2</text>
<path d="M613.62,927.20 h2.9 v14.6 h-2.9 v-10.9 l-4.1,2.1 v-1.9 z" fill="#000"/>
<text transform="translate(246.85,862.10) scale(1.25,1)">3</text>
<text transform="translate(261.10,862.10) scale(1.25,1)">6</text>
<text transform="translate(292.05,878.10) scale(1.25,1)">3</text>
<text transform="translate(306.30,878.10) scale(1.25,1)">7</text>
<text transform="translate(331.15,903.80) scale(1.25,1)">3</text>
<text transform="translate(345.40,903.80) scale(1.25,1)">5</text>
<text transform="translate(211.38,1054.50) scale(1.25,1)">4</text>
<path d="M822.48,844.70 h2.9 v14.6 h-2.9 v-10.9 l-4.1,2.1 v-1.9 z" fill="#000"/>
<path d="M836.73,844.70 h2.9 v14.6 h-2.9 v-10.9 l-4.1,2.1 v-1.9 z" fill="#000"/>
<text transform="translate(749.48,883.40) scale(1.25,1)">2</text>
<path d="M769.62,868.80 h2.9 v14.6 h-2.9 v-10.9 l-4.1,2.1 v-1.9 z" fill="#000"/>
<text transform="translate(712.35,899.40) scale(1.25,1)">2</text>
<text transform="translate(726.60,899.40) scale(1.25,1)">3</text>
<text transform="translate(600.57,982.30) scale(1.25,1)">9</text>
<text transform="translate(810.17,962.20) scale(1.25,1)">2</text>
<path d="M830.32,947.60 h2.9 v14.6 h-2.9 v-10.9 l-4.1,2.1 v-1.9 z" fill="#000"/>
<text transform="translate(670.57,998.70) scale(1.25,1)">2</text>
<path d="M690.72,984.10 h2.9 v14.6 h-2.9 v-10.9 l-4.1,2.1 v-1.9 z" fill="#000"/>
<text transform="translate(810.17,996.00) scale(1.25,1)">3</text>
<path d="M830.32,981.40 h2.9 v14.6 h-2.9 v-10.9 l-4.1,2.1 v-1.9 z" fill="#000"/>
<text transform="translate(810.17,1023.90) scale(1.25,1)">2</text>
<path d="M830.32,1009.30 h2.9 v14.6 h-2.9 v-10.9 l-4.1,2.1 v-1.9 z" fill="#000"/>
<path d="M646.15,1021.00 h2.9 v14.6 h-2.9 v-10.9 l-4.1,2.1 v-1.9 z" fill="#000"/>
<text transform="translate(654.50,1035.60) scale(1.25,1)">0</text>
<text transform="translate(639.57,1069.00) scale(1.25,1)">2</text>
<path d="M659.72,1054.40 h2.9 v14.6 h-2.9 v-10.9 l-4.1,2.1 v-1.9 z" fill="#000"/>
<path d="M943.85,1055.80 h2.9 v14.6 h-2.9 v-10.9 l-4.1,2.1 v-1.9 z" fill="#000"/>
<text transform="translate(952.20,1070.40) scale(1.25,1)">4</text>
<path d="M887.55,1087.40 h2.9 v14.6 h-2.9 v-10.9 l-4.1,2.1 v-1.9 z" fill="#000"/>
<text transform="translate(895.90,1102.00) scale(1.25,1)">2</text>
<text transform="translate(842.57,1123.20) scale(1.25,1)">2</text>
<path d="M862.72,1108.60 h2.9 v14.6 h-2.9 v-10.9 l-4.1,2.1 v-1.9 z" fill="#000"/>
<text transform="translate(794.75,1149.60) scale(1.25,1)">2</text>
<text transform="translate(809.00,1149.60) scale(1.25,1)">9</text>
<text transform="translate(743.48,1180.70) scale(1.25,1)">2</text>
<path d="M763.62,1166.10 h2.9 v14.6 h-2.9 v-10.9 l-4.1,2.1 v-1.9 z" fill="#000"/>
<path d="M907.95,832.80 h2.9 v14.6 h-2.9 v-10.9 l-4.1,2.1 v-1.9 z" fill="#000"/>
<text transform="translate(916.30,847.40) scale(1.25,1)">4</text>
<text transform="translate(522.27,1218.60) scale(1.25,1)">6</text>
<text transform="translate(478.57,1243.50) scale(1.25,1)">5</text>
<text transform="translate(729.57,724.80) scale(1.25,1)">7</text>
<text transform="translate(741.27,760.70) scale(1.25,1)">2</text>
<path d="M761.42,746.10 h2.9 v14.6 h-2.9 v-10.9 l-4.1,2.1 v-1.9 z" fill="#000"/>
<text transform="translate(895.17,737.50) scale(1.25,1)">7</text>
</g>
</svg></body></html>
